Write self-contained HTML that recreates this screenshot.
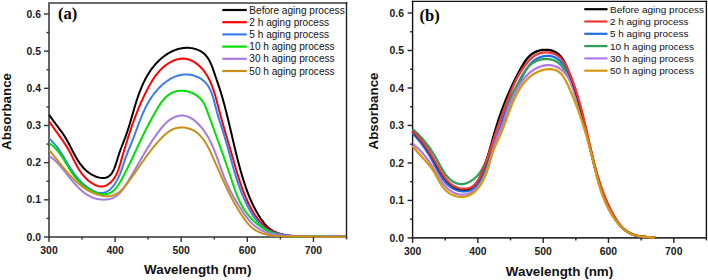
<!DOCTYPE html>
<html><head><meta charset="utf-8"><style>
html,body{margin:0;padding:0;background:#fff;width:708px;height:280px;overflow:hidden}
svg{display:block}
</style></head><body>
<svg width="708" height="280" viewBox="0 0 708 280">
<rect width="708" height="280" fill="#fff"/>
<line x1="49.00" y1="1.95" x2="49.00" y2="237.80" stroke="#646464" stroke-width="2.00"/>
<line x1="48.00" y1="2.95" x2="347.20" y2="2.95" stroke="#6c6c6c" stroke-width="2.00"/>
<line x1="346.50" y1="1.95" x2="346.50" y2="237.80" stroke="#1e1e1e" stroke-width="1.40"/>
<line x1="48.00" y1="237.00" x2="347.20" y2="237.00" stroke="#333" stroke-width="1.60"/>
<path d="M49.25,114.74 L50.01,115.94 L50.79,117.11 L51.57,118.26 L52.35,119.39 L53.15,120.50 L53.94,121.60 L54.74,122.68 L55.54,123.75 L56.34,124.82 L57.14,125.88 L57.94,126.93 L58.73,127.98 L59.52,129.03 L60.30,130.09 L61.07,131.15 L61.84,132.21 L62.59,133.29 L63.34,134.37 L64.07,135.47 L64.78,136.58 L65.48,137.72 L66.17,138.86 L66.84,140.03 L67.50,141.21 L68.15,142.40 L68.80,143.60 L69.43,144.81 L70.06,146.03 L70.69,147.25 L71.32,148.48 L71.95,149.71 L72.59,150.93 L73.22,152.16 L73.87,153.37 L74.52,154.59 L75.18,155.79 L75.85,156.99 L76.54,158.17 L77.24,159.34 L77.96,160.50 L78.70,161.63 L79.45,162.75 L80.23,163.85 L81.04,164.93 L81.87,165.98 L82.73,167.00 L83.61,168.00 L84.53,168.96 L85.49,169.89 L86.47,170.79 L87.50,171.66 L88.56,172.49 L89.66,173.27 L90.80,174.02 L91.99,174.72 L93.20,175.37 L94.44,175.96 L95.70,176.49 L96.96,176.95 L98.23,177.34 L99.50,177.65 L100.75,177.87 L101.98,178.00 L103.19,178.02 L104.36,177.95 L105.50,177.77 L106.58,177.47 L107.61,177.04 L108.58,176.49 L109.48,175.82 L110.32,175.02 L111.11,174.12 L111.84,173.12 L112.52,172.03 L113.16,170.85 L113.76,169.61 L114.33,168.31 L114.86,166.96 L115.37,165.56 L115.86,164.13 L116.33,162.69 L116.78,161.22 L117.23,159.76 L117.67,158.30 L118.11,156.85 L118.56,155.43 L119.01,154.05 L119.47,152.69 L119.93,151.36 L120.40,150.05 L120.87,148.77 L121.34,147.50 L121.82,146.26 L122.29,145.02 L122.77,143.80 L123.24,142.59 L123.71,141.39 L124.17,140.19 L124.64,138.99 L125.09,137.79 L125.54,136.59 L125.99,135.38 L126.42,134.17 L126.85,132.94 L127.27,131.71 L127.68,130.47 L128.09,129.22 L128.49,127.97 L128.88,126.71 L129.27,125.44 L129.66,124.17 L130.04,122.89 L130.42,121.61 L130.80,120.33 L131.18,119.04 L131.55,117.74 L131.93,116.45 L132.30,115.15 L132.68,113.85 L133.06,112.55 L133.43,111.24 L133.81,109.94 L134.20,108.63 L134.58,107.33 L134.98,106.02 L135.37,104.72 L135.77,103.42 L136.18,102.12 L136.59,100.82 L137.01,99.52 L137.44,98.23 L137.88,96.94 L138.32,95.65 L138.78,94.37 L139.24,93.10 L139.71,91.82 L140.20,90.56 L140.70,89.30 L141.20,88.04 L141.73,86.80 L142.26,85.56 L142.81,84.33 L143.37,83.10 L143.95,81.89 L144.55,80.68 L145.16,79.48 L145.78,78.30 L146.43,77.12 L147.09,75.95 L147.77,74.80 L148.47,73.65 L149.19,72.52 L149.93,71.40 L150.69,70.30 L151.47,69.20 L152.28,68.12 L153.10,67.06 L153.95,66.01 L154.83,64.97 L155.72,63.95 L156.65,62.94 L157.59,61.96 L158.56,60.99 L159.55,60.04 L160.57,59.12 L161.60,58.22 L162.66,57.35 L163.74,56.50 L164.83,55.68 L165.95,54.90 L167.08,54.14 L168.24,53.42 L169.41,52.74 L170.59,52.09 L171.79,51.48 L173.01,50.91 L174.24,50.39 L175.49,49.91 L176.75,49.47 L178.03,49.08 L179.31,48.74 L180.61,48.45 L181.92,48.21 L183.24,48.03 L184.57,47.90 L185.91,47.83 L187.25,47.81 L188.60,47.85 L189.95,47.95 L191.29,48.12 L192.62,48.34 L193.93,48.62 L195.23,48.96 L196.50,49.36 L197.74,49.82 L198.96,50.34 L200.13,50.93 L201.26,51.58 L202.35,52.29 L203.39,53.07 L204.37,53.91 L205.30,54.81 L206.17,55.78 L206.98,56.80 L207.74,57.88 L208.46,59.00 L209.14,60.16 L209.78,61.36 L210.38,62.60 L210.95,63.86 L211.49,65.14 L212.00,66.45 L212.50,67.77 L212.98,69.09 L213.45,70.42 L213.90,71.75 L214.36,73.08 L214.80,74.39 L215.25,75.70 L215.70,76.99 L216.14,78.28 L216.58,79.56 L217.02,80.83 L217.45,82.10 L217.89,83.36 L218.31,84.63 L218.73,85.89 L219.15,87.15 L219.56,88.42 L219.97,89.68 L220.37,90.95 L220.76,92.22 L221.15,93.50 L221.54,94.78 L221.92,96.05 L222.29,97.33 L222.66,98.62 L223.03,99.90 L223.39,101.19 L223.74,102.48 L224.10,103.77 L224.45,105.06 L224.79,106.35 L225.13,107.65 L225.47,108.94 L225.81,110.24 L226.14,111.54 L226.47,112.84 L226.80,114.14 L227.12,115.45 L227.44,116.75 L227.76,118.06 L228.08,119.36 L228.39,120.67 L228.71,121.98 L229.02,123.29 L229.33,124.60 L229.64,125.91 L229.95,127.22 L230.26,128.53 L230.56,129.85 L230.87,131.16 L231.18,132.47 L231.48,133.78 L231.79,135.10 L232.09,136.41 L232.40,137.73 L232.70,139.04 L233.01,140.35 L233.32,141.67 L233.62,142.98 L233.93,144.29 L234.24,145.61 L234.55,146.92 L234.87,148.23 L235.18,149.54 L235.50,150.85 L235.81,152.16 L236.13,153.47 L236.46,154.78 L236.78,156.09 L237.11,157.40 L237.44,158.70 L237.77,160.01 L238.11,161.31 L238.45,162.61 L238.79,163.91 L239.13,165.21 L239.48,166.51 L239.84,167.81 L240.20,169.11 L240.56,170.40 L240.92,171.69 L241.29,172.98 L241.67,174.27 L242.05,175.56 L242.43,176.85 L242.82,178.13 L243.22,179.41 L243.62,180.69 L244.03,181.97 L244.44,183.24 L244.86,184.51 L245.29,185.78 L245.72,187.05 L246.16,188.31 L246.61,189.57 L247.07,190.83 L247.53,192.09 L248.01,193.34 L248.49,194.59 L248.99,195.83 L249.49,197.07 L250.01,198.31 L250.53,199.54 L251.07,200.77 L251.62,202.00 L252.18,203.22 L252.76,204.43 L253.35,205.65 L253.95,206.85 L254.56,208.05 L255.19,209.25 L255.83,210.44 L256.49,211.63 L257.16,212.81 L257.85,213.99 L258.55,215.16 L259.27,216.32 L260.01,217.48 L260.76,218.63 L261.54,219.75 L262.34,220.86 L263.15,221.95 L263.99,223.01 L264.86,224.04 L265.75,225.04 L266.67,225.99 L267.62,226.91 L268.59,227.79 L269.60,228.61 L270.64,229.39 L271.71,230.11 L272.81,230.78 L273.94,231.40 L275.09,231.97 L276.28,232.50 L277.48,232.98 L278.71,233.42 L279.96,233.82 L281.23,234.19 L282.52,234.51 L283.83,234.81 L285.15,235.07 L286.49,235.30 L287.84,235.50 L289.20,235.68 L290.56,235.83 L291.94,235.96 L293.32,236.07 L294.71,236.16 L296.10,236.23 L297.49,236.29 L298.89,236.34 L300.28,236.37 L301.67,236.40 L303.05,236.42 L304.43,236.44 L305.80,236.45 L307.17,236.46 L308.52,236.47 L309.87,236.48 L311.22,236.48 L312.55,236.49 L313.89,236.49 L315.22,236.49 L316.54,236.49 L317.87,236.49 L319.19,236.49 L320.51,236.49 L321.82,236.49 L323.14,236.49 L324.46,236.49 L325.78,236.48 L327.10,236.48 L328.42,236.48 L329.74,236.48 L331.07,236.47 L332.40,236.47 L333.73,236.47 L335.07,236.47 L336.42,236.47 L337.77,236.47 L339.12,236.48 L340.49,236.48 L341.86,236.49 L343.24,236.49 L344.63,236.50 L346.03,236.51" fill="none" stroke="#000000" stroke-width="2.00" stroke-linejoin="round" stroke-linecap="butt"/>
<path d="M49.19,121.32 L49.90,122.41 L50.63,123.50 L51.36,124.59 L52.10,125.67 L52.85,126.75 L53.61,127.82 L54.37,128.90 L55.14,129.97 L55.90,131.04 L56.67,132.11 L57.45,133.17 L58.22,134.24 L58.99,135.31 L59.75,136.38 L60.52,137.46 L61.28,138.53 L62.03,139.61 L62.78,140.69 L63.52,141.77 L64.24,142.86 L64.96,143.95 L65.67,145.04 L66.37,146.15 L67.05,147.26 L67.72,148.37 L68.37,149.49 L69.01,150.62 L69.63,151.76 L70.24,152.90 L70.83,154.05 L71.42,155.20 L72.00,156.36 L72.57,157.52 L73.15,158.68 L73.72,159.84 L74.30,160.99 L74.88,162.15 L75.48,163.30 L76.08,164.45 L76.70,165.59 L77.33,166.73 L77.99,167.86 L78.66,168.98 L79.36,170.09 L80.08,171.19 L80.84,172.27 L81.62,173.35 L82.44,174.41 L83.30,175.45 L84.19,176.48 L85.13,177.49 L86.11,178.49 L87.13,179.46 L88.19,180.40 L89.29,181.30 L90.42,182.16 L91.57,182.96 L92.74,183.71 L93.94,184.38 L95.14,184.97 L96.35,185.48 L97.56,185.89 L98.77,186.20 L99.97,186.40 L101.17,186.49 L102.34,186.44 L103.50,186.27 L104.63,185.99 L105.74,185.59 L106.82,185.08 L107.87,184.48 L108.89,183.79 L109.87,183.02 L110.82,182.18 L111.72,181.27 L112.57,180.31 L113.39,179.30 L114.15,178.24 L114.86,177.15 L115.52,176.03 L116.13,174.88 L116.71,173.71 L117.24,172.51 L117.75,171.29 L118.22,170.05 L118.67,168.80 L119.09,167.54 L119.49,166.27 L119.88,164.99 L120.26,163.70 L120.62,162.41 L120.99,161.13 L121.35,159.85 L121.72,158.57 L122.09,157.30 L122.46,156.04 L122.84,154.78 L123.21,153.52 L123.59,152.26 L123.97,151.00 L124.34,149.74 L124.72,148.49 L125.10,147.24 L125.48,145.98 L125.87,144.73 L126.25,143.48 L126.64,142.24 L127.02,140.99 L127.41,139.74 L127.81,138.50 L128.20,137.26 L128.60,136.02 L128.99,134.78 L129.40,133.54 L129.80,132.31 L130.21,131.07 L130.62,129.84 L131.03,128.61 L131.45,127.38 L131.87,126.15 L132.29,124.93 L132.72,123.70 L133.15,122.48 L133.59,121.26 L134.03,120.05 L134.48,118.83 L134.93,117.62 L135.38,116.40 L135.84,115.19 L136.31,113.99 L136.78,112.78 L137.25,111.58 L137.73,110.37 L138.22,109.17 L138.71,107.98 L139.21,106.78 L139.71,105.59 L140.22,104.40 L140.74,103.21 L141.26,102.02 L141.79,100.84 L142.33,99.66 L142.87,98.48 L143.42,97.30 L143.98,96.13 L144.54,94.95 L145.12,93.79 L145.70,92.62 L146.28,91.45 L146.88,90.29 L147.48,89.13 L148.10,87.98 L148.72,86.82 L149.35,85.67 L149.99,84.52 L150.64,83.38 L151.31,82.25 L151.98,81.12 L152.68,80.01 L153.39,78.90 L154.11,77.81 L154.86,76.73 L155.62,75.67 L156.41,74.62 L157.22,73.58 L158.05,72.57 L158.90,71.58 L159.78,70.60 L160.69,69.65 L161.62,68.72 L162.59,67.82 L163.58,66.94 L164.60,66.09 L165.66,65.27 L166.75,64.48 L167.88,63.72 L169.03,62.99 L170.21,62.31 L171.42,61.67 L172.65,61.08 L173.89,60.54 L175.15,60.05 L176.42,59.63 L177.70,59.28 L178.98,58.99 L180.27,58.78 L181.55,58.64 L182.82,58.59 L184.09,58.63 L185.35,58.75 L186.60,58.96 L187.83,59.25 L189.04,59.61 L190.24,60.05 L191.41,60.55 L192.56,61.12 L193.69,61.74 L194.79,62.42 L195.87,63.14 L196.91,63.90 L197.92,64.71 L198.90,65.54 L199.85,66.41 L200.76,67.30 L201.64,68.22 L202.49,69.17 L203.30,70.14 L204.09,71.14 L204.84,72.16 L205.57,73.20 L206.27,74.27 L206.95,75.35 L207.60,76.45 L208.22,77.58 L208.83,78.72 L209.41,79.88 L209.97,81.05 L210.50,82.25 L211.02,83.45 L211.52,84.67 L212.01,85.90 L212.48,87.14 L212.93,88.40 L213.36,89.66 L213.79,90.94 L214.20,92.22 L214.60,93.51 L214.99,94.80 L215.37,96.10 L215.74,97.41 L216.11,98.72 L216.46,100.03 L216.82,101.35 L217.16,102.66 L217.51,103.98 L217.85,105.29 L218.19,106.61 L218.53,107.92 L218.87,109.23 L219.21,110.53 L219.55,111.83 L219.89,113.12 L220.24,114.41 L220.59,115.70 L220.94,116.98 L221.29,118.26 L221.64,119.53 L221.99,120.80 L222.35,122.07 L222.71,123.34 L223.06,124.60 L223.42,125.85 L223.78,127.11 L224.14,128.36 L224.50,129.61 L224.87,130.86 L225.23,132.11 L225.59,133.36 L225.96,134.60 L226.32,135.84 L226.69,137.08 L227.05,138.32 L227.42,139.56 L227.78,140.80 L228.15,142.04 L228.51,143.28 L228.88,144.52 L229.24,145.76 L229.61,147.00 L229.97,148.24 L230.34,149.47 L230.70,150.72 L231.06,151.96 L231.42,153.20 L231.78,154.45 L232.15,155.69 L232.50,156.94 L232.86,158.19 L233.22,159.44 L233.58,160.69 L233.94,161.95 L234.30,163.20 L234.66,164.46 L235.02,165.72 L235.38,166.98 L235.75,168.24 L236.11,169.50 L236.48,170.76 L236.86,172.02 L237.24,173.28 L237.62,174.54 L238.00,175.80 L238.39,177.06 L238.79,178.32 L239.19,179.58 L239.60,180.84 L240.01,182.10 L240.44,183.36 L240.86,184.62 L241.30,185.87 L241.74,187.13 L242.19,188.38 L242.65,189.63 L243.12,190.88 L243.60,192.12 L244.09,193.37 L244.59,194.61 L245.10,195.85 L245.62,197.09 L246.15,198.32 L246.70,199.55 L247.25,200.78 L247.82,202.01 L248.40,203.23 L248.99,204.45 L249.60,205.67 L250.22,206.88 L250.86,208.08 L251.51,209.28 L252.18,210.46 L252.86,211.64 L253.56,212.80 L254.28,213.95 L255.01,215.08 L255.77,216.19 L256.54,217.28 L257.33,218.36 L258.14,219.41 L258.97,220.43 L259.82,221.43 L260.69,222.41 L261.58,223.35 L262.49,224.27 L263.43,225.15 L264.39,225.99 L265.37,226.81 L266.38,227.58 L267.41,228.32 L268.46,229.01 L269.54,229.67 L270.65,230.28 L271.77,230.86 L272.92,231.40 L274.09,231.90 L275.28,232.36 L276.49,232.80 L277.71,233.20 L278.95,233.57 L280.21,233.91 L281.48,234.22 L282.76,234.51 L284.06,234.76 L285.36,235.00 L286.68,235.21 L288.00,235.40 L289.33,235.57 L290.67,235.72 L292.01,235.85 L293.35,235.96 L294.70,236.06 L296.05,236.15 L297.41,236.22 L298.76,236.28 L300.11,236.33 L301.45,236.37 L302.80,236.41 L304.14,236.44 L305.47,236.46 L306.79,236.48 L308.11,236.50 L309.43,236.51 L310.74,236.52 L312.04,236.53 L313.34,236.53 L314.64,236.53 L315.93,236.53 L317.22,236.53 L318.51,236.53 L319.80,236.52 L321.09,236.51 L322.37,236.51 L323.66,236.50 L324.95,236.49 L326.23,236.48 L327.52,236.48 L328.81,236.47 L330.11,236.46 L331.41,236.46 L332.71,236.45 L334.01,236.45 L335.32,236.44 L336.64,236.44 L337.96,236.45 L339.29,236.45 L340.62,236.46 L341.96,236.47 L343.31,236.48 L344.67,236.49 L346.04,236.51" fill="none" stroke="#ff0000" stroke-width="2.00" stroke-linejoin="round" stroke-linecap="butt"/>
<path d="M49.12,138.57 L50.10,139.45 L51.04,140.35 L51.96,141.26 L52.84,142.19 L53.70,143.12 L54.53,144.07 L55.34,145.03 L56.12,145.99 L56.89,146.97 L57.63,147.95 L58.36,148.94 L59.06,149.94 L59.76,150.95 L60.44,151.96 L61.10,152.98 L61.76,154.01 L62.40,155.03 L63.04,156.07 L63.67,157.10 L64.30,158.14 L64.92,159.18 L65.54,160.22 L66.16,161.27 L66.78,162.31 L67.41,163.35 L68.04,164.40 L68.67,165.44 L69.31,166.48 L69.95,167.52 L70.61,168.55 L71.28,169.59 L71.96,170.61 L72.66,171.64 L73.37,172.66 L74.09,173.67 L74.84,174.67 L75.61,175.67 L76.40,176.66 L77.21,177.65 L78.04,178.62 L78.90,179.59 L79.79,180.54 L80.70,181.48 L81.63,182.40 L82.59,183.31 L83.57,184.20 L84.58,185.06 L85.60,185.91 L86.66,186.73 L87.73,187.53 L88.83,188.29 L89.94,189.02 L91.07,189.71 L92.22,190.36 L93.37,190.95 L94.52,191.48 L95.68,191.95 L96.83,192.34 L97.98,192.66 L99.12,192.89 L100.24,193.03 L101.35,193.08 L102.44,193.02 L103.50,192.86 L104.55,192.59 L105.56,192.23 L106.56,191.78 L107.52,191.24 L108.46,190.63 L109.38,189.94 L110.27,189.19 L111.13,188.37 L111.96,187.50 L112.76,186.58 L113.53,185.62 L114.28,184.62 L114.99,183.59 L115.67,182.53 L116.32,181.46 L116.94,180.37 L117.53,179.26 L118.09,178.15 L118.63,177.02 L119.14,175.88 L119.64,174.73 L120.11,173.57 L120.57,172.41 L121.01,171.24 L121.43,170.06 L121.85,168.88 L122.26,167.69 L122.66,166.50 L123.06,165.32 L123.45,164.13 L123.84,162.94 L124.24,161.75 L124.64,160.56 L125.04,159.38 L125.45,158.20 L125.87,157.03 L126.30,155.86 L126.74,154.70 L127.19,153.54 L127.64,152.38 L128.09,151.23 L128.55,150.08 L129.02,148.93 L129.48,147.79 L129.95,146.64 L130.42,145.50 L130.89,144.36 L131.35,143.21 L131.81,142.07 L132.27,140.92 L132.72,139.77 L133.17,138.62 L133.61,137.47 L134.05,136.32 L134.48,135.16 L134.91,134.01 L135.34,132.85 L135.77,131.69 L136.19,130.53 L136.62,129.38 L137.04,128.22 L137.47,127.06 L137.90,125.90 L138.33,124.75 L138.76,123.59 L139.19,122.44 L139.63,121.29 L140.08,120.14 L140.53,119.00 L140.98,117.86 L141.45,116.72 L141.92,115.58 L142.39,114.45 L142.88,113.32 L143.38,112.20 L143.88,111.08 L144.40,109.96 L144.93,108.85 L145.47,107.75 L146.02,106.65 L146.58,105.55 L147.16,104.47 L147.76,103.39 L148.36,102.31 L148.99,101.25 L149.63,100.19 L150.29,99.13 L150.96,98.09 L151.66,97.05 L152.37,96.03 L153.10,95.01 L153.86,94.00 L154.63,93.00 L155.43,92.01 L156.24,91.03 L157.08,90.06 L157.94,89.11 L158.81,88.17 L159.71,87.25 L160.62,86.35 L161.55,85.48 L162.50,84.62 L163.47,83.78 L164.45,82.98 L165.45,82.19 L166.47,81.44 L167.50,80.72 L168.54,80.02 L169.60,79.36 L170.67,78.74 L171.76,78.15 L172.86,77.60 L173.97,77.08 L175.10,76.61 L176.23,76.18 L177.38,75.79 L178.53,75.45 L179.70,75.15 L180.87,74.90 L182.06,74.70 L183.25,74.56 L184.45,74.46 L185.66,74.42 L186.88,74.43 L188.10,74.51 L189.32,74.63 L190.54,74.81 L191.76,75.05 L192.97,75.34 L194.16,75.68 L195.34,76.07 L196.50,76.51 L197.64,77.00 L198.76,77.54 L199.84,78.13 L200.89,78.77 L201.91,79.45 L202.88,80.18 L203.81,80.95 L204.70,81.77 L205.53,82.63 L206.32,83.53 L207.06,84.47 L207.76,85.45 L208.42,86.46 L209.03,87.50 L209.62,88.58 L210.16,89.68 L210.68,90.81 L211.16,91.96 L211.62,93.13 L212.06,94.32 L212.47,95.53 L212.86,96.76 L213.23,97.99 L213.59,99.24 L213.94,100.49 L214.27,101.75 L214.60,103.01 L214.92,104.28 L215.24,105.54 L215.55,106.80 L215.87,108.06 L216.19,109.31 L216.51,110.55 L216.85,111.78 L217.19,112.99 L217.53,114.20 L217.89,115.40 L218.24,116.60 L218.60,117.78 L218.97,118.97 L219.34,120.14 L219.71,121.31 L220.08,122.48 L220.45,123.64 L220.83,124.81 L221.20,125.97 L221.58,127.13 L221.96,128.29 L222.33,129.45 L222.70,130.62 L223.07,131.79 L223.44,132.96 L223.80,134.13 L224.16,135.31 L224.52,136.50 L224.88,137.68 L225.23,138.87 L225.58,140.07 L225.92,141.26 L226.27,142.46 L226.61,143.66 L226.95,144.86 L227.29,146.06 L227.62,147.27 L227.96,148.47 L228.29,149.68 L228.62,150.88 L228.96,152.09 L229.29,153.30 L229.62,154.50 L229.94,155.70 L230.27,156.90 L230.60,158.10 L230.93,159.30 L231.26,160.50 L231.59,161.69 L231.92,162.89 L232.25,164.08 L232.59,165.27 L232.92,166.46 L233.26,167.65 L233.60,168.83 L233.94,170.01 L234.29,171.20 L234.64,172.38 L234.99,173.56 L235.35,174.74 L235.71,175.91 L236.08,177.09 L236.45,178.26 L236.82,179.44 L237.20,180.61 L237.59,181.78 L237.99,182.95 L238.39,184.12 L238.79,185.29 L239.21,186.45 L239.63,187.62 L240.06,188.78 L240.49,189.94 L240.94,191.11 L241.39,192.27 L241.85,193.43 L242.32,194.58 L242.80,195.74 L243.30,196.90 L243.80,198.06 L244.31,199.21 L244.83,200.37 L245.36,201.52 L245.91,202.67 L246.46,203.82 L247.03,204.97 L247.61,206.12 L248.20,207.27 L248.81,208.41 L249.43,209.55 L250.06,210.68 L250.71,211.80 L251.37,212.91 L252.05,214.01 L252.74,215.09 L253.45,216.16 L254.18,217.21 L254.93,218.24 L255.69,219.25 L256.47,220.24 L257.27,221.21 L258.09,222.15 L258.93,223.07 L259.79,223.96 L260.67,224.81 L261.57,225.64 L262.50,226.44 L263.44,227.20 L264.41,227.92 L265.40,228.61 L266.42,229.26 L267.46,229.87 L268.52,230.44 L269.60,230.97 L270.70,231.47 L271.82,231.93 L272.96,232.36 L274.11,232.77 L275.28,233.14 L276.47,233.48 L277.66,233.79 L278.87,234.08 L280.09,234.35 L281.32,234.59 L282.56,234.81 L283.80,235.01 L285.05,235.20 L286.30,235.36 L287.56,235.51 L288.82,235.65 L290.07,235.77 L291.33,235.88 L292.59,235.98 L293.85,236.07 L295.10,236.15 L296.35,236.23 L297.60,236.29 L298.85,236.35 L300.10,236.40 L301.34,236.44 L302.59,236.48 L303.83,236.51 L305.07,236.53 L306.31,236.55 L307.55,236.57 L308.79,236.58 L310.03,236.58 L311.27,236.58 L312.50,236.58 L313.74,236.57 L314.97,236.56 L316.21,236.55 L317.44,236.54 L318.68,236.53 L319.91,236.51 L321.15,236.49 L322.38,236.48 L323.62,236.46 L324.86,236.44 L326.09,236.42 L327.33,236.41 L328.57,236.39 L329.81,236.38 L331.04,236.37 L332.28,236.36 L333.53,236.36 L334.77,236.35 L336.01,236.36 L337.26,236.36 L338.50,236.37 L339.75,236.39 L341.00,236.41 L342.25,236.44 L343.50,236.47 L344.76,236.51 L346.02,236.55" fill="none" stroke="#3a7ee8" stroke-width="2.00" stroke-linejoin="round" stroke-linecap="butt"/>
<path d="M49.01,142.92 L50.04,143.67 L51.02,144.43 L51.98,145.21 L52.90,146.01 L53.78,146.83 L54.64,147.66 L55.46,148.50 L56.26,149.36 L57.04,150.23 L57.78,151.11 L58.51,152.01 L59.22,152.91 L59.90,153.83 L60.57,154.76 L61.23,155.69 L61.86,156.63 L62.49,157.58 L63.11,158.54 L63.71,159.50 L64.31,160.46 L64.90,161.43 L65.49,162.40 L66.07,163.38 L66.66,164.36 L67.24,165.34 L67.83,166.31 L68.42,167.29 L69.01,168.27 L69.62,169.24 L70.23,170.22 L70.85,171.19 L71.48,172.15 L72.13,173.11 L72.79,174.06 L73.47,175.01 L74.17,175.95 L74.89,176.88 L75.63,177.81 L76.40,178.72 L77.18,179.62 L78.00,180.51 L78.84,181.40 L79.72,182.26 L80.62,183.12 L81.54,183.95 L82.49,184.77 L83.47,185.57 L84.46,186.34 L85.47,187.09 L86.49,187.81 L87.54,188.51 L88.59,189.17 L89.66,189.80 L90.73,190.40 L91.82,190.96 L92.91,191.48 L94.00,191.96 L95.10,192.40 L96.19,192.80 L97.29,193.15 L98.38,193.45 L99.47,193.71 L100.55,193.91 L101.62,194.05 L102.69,194.14 L103.74,194.18 L104.78,194.15 L105.80,194.06 L106.81,193.91 L107.80,193.70 L108.76,193.41 L109.71,193.06 L110.63,192.63 L111.52,192.13 L112.39,191.56 L113.23,190.92 L114.04,190.20 L114.83,189.43 L115.59,188.59 L116.33,187.71 L117.05,186.78 L117.75,185.81 L118.44,184.80 L119.10,183.77 L119.75,182.71 L120.39,181.63 L121.01,180.54 L121.62,179.44 L122.22,178.34 L122.81,177.24 L123.39,176.14 L123.97,175.05 L124.53,173.97 L125.09,172.89 L125.64,171.81 L126.19,170.74 L126.73,169.67 L127.26,168.60 L127.79,167.54 L128.31,166.48 L128.83,165.42 L129.34,164.37 L129.84,163.31 L130.35,162.27 L130.85,161.22 L131.34,160.17 L131.83,159.13 L132.32,158.09 L132.81,157.05 L133.29,156.02 L133.78,154.98 L134.26,153.95 L134.74,152.91 L135.21,151.88 L135.69,150.85 L136.17,149.82 L136.65,148.79 L137.13,147.76 L137.60,146.73 L138.08,145.70 L138.57,144.67 L139.05,143.64 L139.53,142.60 L140.02,141.57 L140.51,140.54 L141.00,139.51 L141.50,138.47 L142.00,137.44 L142.50,136.40 L143.01,135.36 L143.52,134.32 L144.04,133.28 L144.56,132.23 L145.09,131.18 L145.62,130.14 L146.15,129.09 L146.69,128.04 L147.23,126.99 L147.78,125.94 L148.33,124.90 L148.88,123.85 L149.43,122.80 L149.99,121.76 L150.55,120.71 L151.11,119.67 L151.68,118.63 L152.24,117.60 L152.81,116.57 L153.38,115.54 L153.94,114.51 L154.51,113.49 L155.08,112.47 L155.65,111.46 L156.23,110.45 L156.81,109.44 L157.41,108.42 L158.02,107.41 L158.65,106.40 L159.30,105.39 L159.96,104.39 L160.64,103.41 L161.34,102.44 L162.06,101.48 L162.80,100.55 L163.56,99.65 L164.34,98.77 L165.14,97.92 L165.97,97.10 L166.81,96.32 L167.68,95.58 L168.58,94.88 L169.49,94.22 L170.44,93.62 L171.41,93.07 L172.40,92.57 L173.42,92.13 L174.47,91.75 L175.54,91.43 L176.64,91.16 L177.75,90.96 L178.88,90.82 L180.03,90.73 L181.18,90.70 L182.34,90.72 L183.51,90.80 L184.67,90.93 L185.84,91.11 L187.00,91.34 L188.15,91.63 L189.29,91.96 L190.42,92.34 L191.53,92.77 L192.63,93.25 L193.70,93.77 L194.75,94.34 L195.76,94.95 L196.75,95.60 L197.70,96.30 L198.62,97.04 L199.50,97.82 L200.33,98.64 L201.12,99.50 L201.86,100.39 L202.55,101.32 L203.18,102.29 L203.78,103.29 L204.33,104.31 L204.85,105.36 L205.33,106.43 L205.79,107.52 L206.23,108.62 L206.66,109.72 L207.07,110.84 L207.48,111.95 L207.89,113.07 L208.29,114.18 L208.70,115.29 L209.10,116.40 L209.51,117.51 L209.91,118.62 L210.32,119.72 L210.72,120.82 L211.13,121.93 L211.53,123.03 L211.93,124.13 L212.33,125.22 L212.74,126.32 L213.14,127.42 L213.54,128.51 L213.94,129.61 L214.34,130.70 L214.73,131.79 L215.13,132.89 L215.53,133.98 L215.93,135.07 L216.32,136.16 L216.72,137.25 L217.11,138.34 L217.51,139.42 L217.90,140.51 L218.29,141.60 L218.69,142.69 L219.08,143.77 L219.47,144.86 L219.86,145.95 L220.25,147.03 L220.64,148.12 L221.03,149.21 L221.42,150.29 L221.80,151.38 L222.19,152.47 L222.58,153.56 L222.96,154.64 L223.34,155.73 L223.73,156.82 L224.11,157.91 L224.49,159.00 L224.87,160.09 L225.25,161.18 L225.63,162.27 L226.01,163.36 L226.39,164.45 L226.77,165.55 L227.14,166.64 L227.52,167.74 L227.89,168.83 L228.27,169.93 L228.64,171.03 L229.01,172.13 L229.38,173.23 L229.75,174.33 L230.12,175.44 L230.49,176.54 L230.86,177.65 L231.23,178.76 L231.59,179.87 L231.96,180.98 L232.32,182.09 L232.69,183.20 L233.06,184.31 L233.43,185.43 L233.80,186.54 L234.18,187.65 L234.56,188.76 L234.95,189.87 L235.34,190.97 L235.74,192.07 L236.15,193.17 L236.57,194.26 L237.00,195.35 L237.44,196.44 L237.89,197.52 L238.35,198.59 L238.83,199.66 L239.32,200.72 L239.82,201.78 L240.34,202.83 L240.88,203.87 L241.43,204.90 L242.00,205.92 L242.59,206.93 L243.20,207.94 L243.82,208.93 L244.46,209.91 L245.12,210.88 L245.79,211.85 L246.49,212.79 L247.19,213.73 L247.92,214.65 L248.66,215.56 L249.41,216.46 L250.18,217.34 L250.97,218.21 L251.77,219.07 L252.58,219.90 L253.41,220.72 L254.25,221.53 L255.11,222.32 L255.98,223.09 L256.87,223.85 L257.77,224.58 L258.68,225.30 L259.60,226.00 L260.54,226.68 L261.49,227.34 L262.45,227.98 L263.42,228.60 L264.41,229.19 L265.40,229.77 L266.41,230.32 L267.43,230.85 L268.46,231.36 L269.50,231.85 L270.55,232.31 L271.61,232.75 L272.68,233.16 L273.76,233.55 L274.85,233.91 L275.94,234.25 L277.05,234.56 L278.17,234.84 L279.29,235.09 L280.42,235.32 L281.56,235.53 L282.71,235.71 L283.86,235.87 L285.02,236.01 L286.18,236.13 L287.35,236.24 L288.53,236.32 L289.71,236.39 L290.89,236.44 L292.08,236.48 L293.27,236.50 L294.46,236.51 L295.66,236.52 L296.86,236.51 L298.05,236.49 L299.25,236.47 L300.45,236.44 L301.65,236.41 L302.86,236.37 L304.05,236.33 L305.25,236.29 L306.45,236.24 L307.64,236.20 L308.84,236.16 L310.03,236.12 L311.21,236.09 L312.40,236.07 L313.57,236.04 L314.75,236.03 L315.92,236.03 L317.08,236.03 L318.24,236.05 L319.39,236.08 L320.53,236.12 L321.68,236.16 L322.81,236.22 L323.95,236.28 L325.08,236.35 L326.21,236.42 L327.34,236.49 L328.47,236.56 L329.60,236.62 L330.73,236.69 L331.87,236.74 L333.01,236.80 L334.15,236.84 L335.30,236.87 L336.46,236.90 L337.62,236.90 L338.79,236.90 L339.97,236.88 L341.16,236.84 L342.35,236.78 L343.56,236.70 L344.78,236.60 L346.02,236.47" fill="none" stroke="#00e000" stroke-width="2.00" stroke-linejoin="round" stroke-linecap="butt"/>
<path d="M49.39,156.12 L50.19,156.66 L50.98,157.22 L51.75,157.80 L52.52,158.41 L53.28,159.04 L54.03,159.70 L54.78,160.37 L55.52,161.06 L56.25,161.77 L56.97,162.50 L57.69,163.24 L58.40,164.00 L59.11,164.78 L59.81,165.56 L60.51,166.36 L61.21,167.17 L61.90,167.99 L62.59,168.82 L63.28,169.66 L63.97,170.50 L64.66,171.35 L65.34,172.20 L66.03,173.06 L66.71,173.93 L67.40,174.79 L68.08,175.66 L68.77,176.52 L69.46,177.39 L70.16,178.25 L70.85,179.11 L71.55,179.96 L72.25,180.81 L72.96,181.66 L73.67,182.50 L74.39,183.33 L75.12,184.15 L75.85,184.96 L76.58,185.76 L77.33,186.54 L78.08,187.32 L78.84,188.08 L79.60,188.82 L80.38,189.55 L81.17,190.26 L81.96,190.96 L82.77,191.63 L83.59,192.29 L84.41,192.92 L85.25,193.53 L86.11,194.12 L86.97,194.68 L87.85,195.22 L88.74,195.73 L89.65,196.22 L90.57,196.67 L91.50,197.10 L92.45,197.50 L93.42,197.87 L94.40,198.20 L95.40,198.50 L96.41,198.77 L97.44,199.00 L98.47,199.20 L99.51,199.36 L100.56,199.48 L101.61,199.57 L102.67,199.62 L103.72,199.63 L104.77,199.60 L105.81,199.53 L106.85,199.42 L107.88,199.27 L108.90,199.07 L109.90,198.83 L110.89,198.55 L111.86,198.23 L112.81,197.85 L113.74,197.44 L114.64,196.97 L115.52,196.46 L116.37,195.90 L117.19,195.30 L117.99,194.65 L118.77,193.96 L119.52,193.24 L120.25,192.49 L120.96,191.70 L121.65,190.89 L122.32,190.05 L122.98,189.18 L123.62,188.30 L124.25,187.41 L124.86,186.50 L125.47,185.57 L126.06,184.64 L126.65,183.71 L127.23,182.77 L127.80,181.83 L128.37,180.90 L128.93,179.97 L129.49,179.04 L130.04,178.11 L130.59,177.18 L131.14,176.26 L131.68,175.33 L132.22,174.41 L132.76,173.49 L133.29,172.57 L133.82,171.65 L134.35,170.74 L134.87,169.83 L135.40,168.91 L135.92,168.00 L136.44,167.09 L136.96,166.19 L137.47,165.28 L137.99,164.37 L138.51,163.47 L139.02,162.57 L139.54,161.67 L140.06,160.77 L140.57,159.87 L141.09,158.97 L141.61,158.07 L142.13,157.17 L142.65,156.28 L143.17,155.39 L143.70,154.49 L144.22,153.60 L144.75,152.71 L145.28,151.82 L145.82,150.93 L146.36,150.04 L146.90,149.15 L147.44,148.26 L147.99,147.37 L148.54,146.48 L149.10,145.60 L149.66,144.71 L150.23,143.82 L150.80,142.94 L151.38,142.05 L151.96,141.17 L152.55,140.28 L153.14,139.40 L153.74,138.51 L154.35,137.63 L154.96,136.74 L155.58,135.86 L156.21,134.98 L156.84,134.09 L157.48,133.21 L158.13,132.32 L158.79,131.44 L159.46,130.56 L160.14,129.68 L160.82,128.81 L161.52,127.95 L162.23,127.10 L162.95,126.26 L163.68,125.44 L164.42,124.64 L165.17,123.85 L165.94,123.09 L166.72,122.35 L167.52,121.64 L168.33,120.96 L169.15,120.30 L169.99,119.68 L170.85,119.10 L171.72,118.55 L172.61,118.03 L173.52,117.57 L174.44,117.14 L175.39,116.76 L176.35,116.42 L177.33,116.14 L178.32,115.91 L179.32,115.73 L180.32,115.60 L181.33,115.54 L182.33,115.53 L183.33,115.58 L184.32,115.70 L185.30,115.87 L186.26,116.11 L187.21,116.40 L188.15,116.75 L189.07,117.15 L189.98,117.59 L190.88,118.08 L191.76,118.61 L192.62,119.17 L193.48,119.78 L194.31,120.41 L195.13,121.08 L195.94,121.77 L196.73,122.48 L197.50,123.21 L198.26,123.96 L199.00,124.73 L199.72,125.51 L200.42,126.29 L201.11,127.09 L201.78,127.90 L202.44,128.73 L203.08,129.56 L203.70,130.40 L204.32,131.25 L204.91,132.11 L205.50,132.98 L206.07,133.86 L206.63,134.75 L207.17,135.65 L207.70,136.56 L208.23,137.47 L208.74,138.39 L209.24,139.32 L209.72,140.25 L210.20,141.19 L210.67,142.14 L211.13,143.10 L211.59,144.06 L212.03,145.02 L212.46,145.99 L212.89,146.97 L213.31,147.95 L213.72,148.93 L214.13,149.92 L214.53,150.91 L214.93,151.91 L215.32,152.91 L215.70,153.91 L216.08,154.91 L216.46,155.92 L216.83,156.93 L217.20,157.94 L217.57,158.95 L217.94,159.96 L218.30,160.98 L218.66,161.99 L219.02,163.01 L219.38,164.02 L219.74,165.04 L220.10,166.05 L220.45,167.06 L220.81,168.07 L221.18,169.08 L221.54,170.09 L221.90,171.10 L222.27,172.10 L222.64,173.11 L223.01,174.10 L223.39,175.10 L223.77,176.09 L224.16,177.08 L224.55,178.06 L224.94,179.04 L225.34,180.02 L225.75,180.99 L226.16,181.95 L226.58,182.91 L227.01,183.87 L227.44,184.82 L227.88,185.77 L228.32,186.71 L228.77,187.65 L229.23,188.58 L229.69,189.52 L230.16,190.45 L230.64,191.38 L231.12,192.30 L231.61,193.23 L232.10,194.15 L232.60,195.07 L233.10,195.99 L233.61,196.91 L234.13,197.83 L234.65,198.75 L235.18,199.66 L235.71,200.58 L236.25,201.50 L236.80,202.42 L237.35,203.34 L237.90,204.26 L238.46,205.19 L239.03,206.11 L239.60,207.04 L240.18,207.96 L240.77,208.89 L241.36,209.81 L241.96,210.73 L242.57,211.64 L243.18,212.55 L243.81,213.45 L244.44,214.35 L245.08,215.23 L245.73,216.11 L246.39,216.97 L247.06,217.83 L247.74,218.67 L248.43,219.50 L249.13,220.32 L249.84,221.12 L250.56,221.90 L251.30,222.66 L252.04,223.41 L252.80,224.14 L253.57,224.85 L254.36,225.53 L255.16,226.20 L255.97,226.84 L256.79,227.46 L257.63,228.05 L258.49,228.61 L259.36,229.15 L260.24,229.66 L261.14,230.14 L262.06,230.60 L262.98,231.03 L263.92,231.44 L264.87,231.82 L265.84,232.18 L266.81,232.52 L267.80,232.84 L268.79,233.14 L269.80,233.41 L270.81,233.67 L271.83,233.91 L272.86,234.13 L273.90,234.33 L274.94,234.52 L275.99,234.70 L277.05,234.86 L278.11,235.00 L279.18,235.14 L280.25,235.26 L281.32,235.37 L282.40,235.47 L283.47,235.56 L284.55,235.64 L285.64,235.71 L286.72,235.77 L287.80,235.83 L288.88,235.89 L289.96,235.93 L291.04,235.98 L292.12,236.02 L293.20,236.06 L294.27,236.09 L295.34,236.13 L296.41,236.16 L297.47,236.19 L298.54,236.21 L299.60,236.24 L300.66,236.26 L301.72,236.28 L302.78,236.30 L303.83,236.31 L304.89,236.33 L305.94,236.34 L306.99,236.35 L308.04,236.36 L309.09,236.37 L310.14,236.38 L311.19,236.38 L312.24,236.39 L313.29,236.39 L314.33,236.39 L315.38,236.40 L316.42,236.40 L317.47,236.40 L318.52,236.40 L319.56,236.40 L320.61,236.39 L321.66,236.39 L322.70,236.39 L323.75,236.39 L324.80,236.38 L325.85,236.38 L326.89,236.38 L327.94,236.38 L329.00,236.37 L330.05,236.37 L331.10,236.37 L332.16,236.37 L333.21,236.36 L334.27,236.36 L335.33,236.36 L336.39,236.36 L337.45,236.37 L338.52,236.37 L339.59,236.37 L340.65,236.38 L341.73,236.38 L342.80,236.39 L343.88,236.40 L344.95,236.40 L346.04,236.41" fill="none" stroke="#a57ae0" stroke-width="2.00" stroke-linejoin="round" stroke-linecap="butt"/>
<path d="M49.12,150.21 L49.76,150.95 L50.40,151.69 L51.04,152.44 L51.68,153.20 L52.31,153.96 L52.95,154.73 L53.58,155.50 L54.21,156.28 L54.84,157.06 L55.47,157.84 L56.10,158.63 L56.73,159.42 L57.36,160.21 L58.00,161.00 L58.63,161.80 L59.26,162.59 L59.90,163.39 L60.54,164.19 L61.18,164.98 L61.82,165.78 L62.46,166.58 L63.11,167.37 L63.76,168.17 L64.41,168.96 L65.07,169.75 L65.73,170.53 L66.40,171.32 L67.07,172.10 L67.75,172.87 L68.43,173.64 L69.11,174.41 L69.81,175.17 L70.50,175.92 L71.21,176.67 L71.92,177.41 L72.64,178.15 L73.36,178.88 L74.09,179.60 L74.83,180.31 L75.58,181.02 L76.33,181.71 L77.10,182.40 L77.87,183.08 L78.65,183.74 L79.44,184.40 L80.24,185.05 L81.05,185.68 L81.87,186.30 L82.70,186.91 L83.54,187.51 L84.39,188.10 L85.25,188.67 L86.13,189.23 L87.01,189.77 L87.91,190.30 L88.82,190.82 L89.74,191.32 L90.67,191.80 L91.61,192.26 L92.55,192.70 L93.51,193.12 L94.47,193.52 L95.43,193.90 L96.40,194.25 L97.37,194.58 L98.34,194.88 L99.32,195.15 L100.30,195.39 L101.27,195.61 L102.25,195.79 L103.22,195.94 L104.19,196.06 L105.16,196.14 L106.12,196.19 L107.07,196.20 L108.02,196.18 L108.96,196.11 L109.90,196.01 L110.82,195.86 L111.73,195.67 L112.63,195.44 L113.53,195.17 L114.40,194.84 L115.27,194.48 L116.12,194.06 L116.95,193.60 L117.77,193.08 L118.57,192.53 L119.36,191.92 L120.13,191.28 L120.89,190.61 L121.63,189.90 L122.37,189.16 L123.09,188.40 L123.80,187.61 L124.50,186.80 L125.19,185.97 L125.86,185.13 L126.53,184.28 L127.19,183.43 L127.85,182.56 L128.49,181.70 L129.13,180.83 L129.76,179.97 L130.39,179.12 L131.01,178.26 L131.62,177.41 L132.23,176.56 L132.83,175.71 L133.43,174.87 L134.03,174.03 L134.62,173.19 L135.21,172.35 L135.79,171.51 L136.37,170.68 L136.95,169.85 L137.52,169.02 L138.10,168.20 L138.67,167.37 L139.24,166.55 L139.81,165.73 L140.38,164.91 L140.94,164.10 L141.51,163.28 L142.08,162.47 L142.65,161.66 L143.22,160.86 L143.79,160.05 L144.36,159.24 L144.93,158.44 L145.50,157.64 L146.08,156.84 L146.66,156.04 L147.25,155.25 L147.83,154.45 L148.42,153.66 L149.02,152.87 L149.62,152.08 L150.22,151.29 L150.83,150.50 L151.44,149.72 L152.06,148.93 L152.68,148.15 L153.31,147.37 L153.95,146.59 L154.60,145.81 L155.25,145.03 L155.91,144.25 L156.57,143.47 L157.25,142.70 L157.93,141.92 L158.62,141.15 L159.33,140.38 L160.04,139.61 L160.76,138.84 L161.49,138.07 L162.23,137.31 L162.98,136.56 L163.74,135.82 L164.52,135.10 L165.30,134.40 L166.10,133.71 L166.91,133.05 L167.74,132.41 L168.57,131.80 L169.42,131.22 L170.29,130.68 L171.17,130.17 L172.06,129.70 L172.97,129.27 L173.89,128.88 L174.83,128.54 L175.79,128.25 L176.76,128.01 L177.73,127.81 L178.72,127.65 L179.71,127.54 L180.71,127.47 L181.71,127.45 L182.71,127.47 L183.71,127.53 L184.70,127.63 L185.69,127.77 L186.67,127.95 L187.64,128.16 L188.60,128.42 L189.54,128.70 L190.46,129.03 L191.37,129.39 L192.26,129.79 L193.12,130.21 L193.96,130.67 L194.78,131.17 L195.58,131.69 L196.35,132.24 L197.11,132.82 L197.85,133.42 L198.57,134.06 L199.27,134.72 L199.95,135.40 L200.61,136.10 L201.26,136.83 L201.89,137.58 L202.51,138.35 L203.11,139.14 L203.70,139.95 L204.28,140.77 L204.84,141.62 L205.39,142.47 L205.93,143.34 L206.45,144.23 L206.97,145.12 L207.47,146.03 L207.97,146.95 L208.46,147.88 L208.94,148.81 L209.41,149.76 L209.87,150.70 L210.33,151.66 L210.78,152.62 L211.22,153.58 L211.67,154.54 L212.10,155.51 L212.54,156.48 L212.97,157.44 L213.39,158.41 L213.82,159.37 L214.24,160.33 L214.66,161.28 L215.08,162.24 L215.50,163.19 L215.92,164.14 L216.33,165.09 L216.75,166.04 L217.16,166.98 L217.57,167.93 L217.98,168.87 L218.40,169.81 L218.81,170.74 L219.22,171.68 L219.63,172.61 L220.04,173.54 L220.45,174.47 L220.86,175.40 L221.27,176.32 L221.68,177.24 L222.09,178.16 L222.50,179.08 L222.92,180.00 L223.33,180.92 L223.75,181.83 L224.16,182.74 L224.58,183.65 L225.00,184.56 L225.43,185.47 L225.85,186.37 L226.28,187.27 L226.70,188.18 L227.14,189.07 L227.57,189.97 L228.00,190.87 L228.44,191.76 L228.88,192.66 L229.33,193.55 L229.78,194.43 L230.23,195.32 L230.68,196.21 L231.14,197.09 L231.60,197.97 L232.07,198.86 L232.54,199.74 L233.01,200.61 L233.49,201.49 L233.97,202.36 L234.46,203.24 L234.95,204.11 L235.45,204.98 L235.95,205.85 L236.46,206.71 L236.97,207.58 L237.49,208.44 L238.01,209.31 L238.54,210.17 L239.07,211.03 L239.61,211.88 L240.16,212.74 L240.71,213.60 L241.27,214.45 L241.84,215.30 L242.41,216.16 L242.99,217.01 L243.58,217.85 L244.17,218.70 L244.78,219.54 L245.39,220.37 L246.02,221.19 L246.65,222.00 L247.30,222.80 L247.96,223.58 L248.63,224.35 L249.32,225.10 L250.03,225.83 L250.75,226.53 L251.49,227.21 L252.24,227.87 L253.02,228.49 L253.82,229.09 L254.63,229.65 L255.47,230.19 L256.32,230.69 L257.20,231.16 L258.09,231.61 L258.99,232.03 L259.91,232.43 L260.84,232.79 L261.78,233.14 L262.73,233.46 L263.69,233.76 L264.66,234.04 L265.63,234.30 L266.62,234.54 L267.60,234.77 L268.59,234.97 L269.59,235.16 L270.59,235.33 L271.59,235.49 L272.60,235.63 L273.62,235.76 L274.63,235.88 L275.65,235.98 L276.67,236.07 L277.70,236.15 L278.72,236.22 L279.75,236.28 L280.78,236.34 L281.81,236.38 L282.85,236.41 L283.88,236.44 L284.92,236.47 L285.95,236.48 L286.99,236.50 L288.02,236.51 L289.06,236.51 L290.09,236.51 L291.13,236.51 L292.16,236.51 L293.19,236.51 L294.23,236.51 L295.25,236.51 L296.28,236.51 L297.31,236.52 L298.33,236.52 L299.35,236.53 L300.37,236.53 L301.39,236.54 L302.41,236.55 L303.42,236.56 L304.44,236.57 L305.45,236.58 L306.47,236.59 L307.48,236.60 L308.49,236.62 L309.50,236.63 L310.51,236.65 L311.51,236.66 L312.52,236.67 L313.53,236.69 L314.54,236.70 L315.54,236.72 L316.55,236.73 L317.56,236.75 L318.56,236.76 L319.57,236.77 L320.58,236.79 L321.58,236.80 L322.59,236.81 L323.60,236.83 L324.60,236.84 L325.61,236.85 L326.62,236.86 L327.63,236.86 L328.64,236.87 L329.65,236.88 L330.67,236.88 L331.68,236.89 L332.70,236.89 L333.71,236.89 L334.73,236.89 L335.75,236.89 L336.77,236.89 L337.79,236.88 L338.81,236.87 L339.84,236.87 L340.87,236.85 L341.90,236.84 L342.93,236.83 L343.96,236.81 L345.00,236.79 L346.03,236.77" fill="none" stroke="#c89018" stroke-width="2.00" stroke-linejoin="round" stroke-linecap="butt"/>
<line x1="44.00" y1="237.00" x2="49.00" y2="237.00" stroke="#333" stroke-width="1.4"/>
<text x="41.00" y="240.60" text-anchor="end" font-family='"Liberation Sans", sans-serif' font-weight="bold" font-size="10.4" fill="#1a1a1a">0.0</text>
<line x1="46.50" y1="218.41" x2="49.00" y2="218.41" stroke="#333" stroke-width="1.4"/>
<line x1="44.00" y1="199.83" x2="49.00" y2="199.83" stroke="#333" stroke-width="1.4"/>
<text x="41.00" y="203.43" text-anchor="end" font-family='"Liberation Sans", sans-serif' font-weight="bold" font-size="10.4" fill="#1a1a1a">0.1</text>
<line x1="46.50" y1="181.25" x2="49.00" y2="181.25" stroke="#333" stroke-width="1.4"/>
<line x1="44.00" y1="162.66" x2="49.00" y2="162.66" stroke="#333" stroke-width="1.4"/>
<text x="41.00" y="166.26" text-anchor="end" font-family='"Liberation Sans", sans-serif' font-weight="bold" font-size="10.4" fill="#1a1a1a">0.2</text>
<line x1="46.50" y1="144.07" x2="49.00" y2="144.07" stroke="#333" stroke-width="1.4"/>
<line x1="44.00" y1="125.49" x2="49.00" y2="125.49" stroke="#333" stroke-width="1.4"/>
<text x="41.00" y="129.09" text-anchor="end" font-family='"Liberation Sans", sans-serif' font-weight="bold" font-size="10.4" fill="#1a1a1a">0.3</text>
<line x1="46.50" y1="106.91" x2="49.00" y2="106.91" stroke="#333" stroke-width="1.4"/>
<line x1="44.00" y1="88.32" x2="49.00" y2="88.32" stroke="#333" stroke-width="1.4"/>
<text x="41.00" y="91.92" text-anchor="end" font-family='"Liberation Sans", sans-serif' font-weight="bold" font-size="10.4" fill="#1a1a1a">0.4</text>
<line x1="46.50" y1="69.74" x2="49.00" y2="69.74" stroke="#333" stroke-width="1.4"/>
<line x1="44.00" y1="51.15" x2="49.00" y2="51.15" stroke="#333" stroke-width="1.4"/>
<text x="41.00" y="54.75" text-anchor="end" font-family='"Liberation Sans", sans-serif' font-weight="bold" font-size="10.4" fill="#1a1a1a">0.5</text>
<line x1="46.50" y1="32.56" x2="49.00" y2="32.56" stroke="#333" stroke-width="1.4"/>
<line x1="44.00" y1="13.98" x2="49.00" y2="13.98" stroke="#333" stroke-width="1.4"/>
<text x="41.00" y="17.58" text-anchor="end" font-family='"Liberation Sans", sans-serif' font-weight="bold" font-size="10.4" fill="#1a1a1a">0.6</text>
<line x1="49.00" y1="237.00" x2="49.00" y2="242.00" stroke="#333" stroke-width="1.4"/>
<text x="49.00" y="253.60" text-anchor="middle" font-family='"Liberation Sans", sans-serif' font-weight="bold" font-size="10.4" fill="#1a1a1a">300</text>
<line x1="82.06" y1="237.00" x2="82.06" y2="239.50" stroke="#333" stroke-width="1.4"/>
<line x1="115.11" y1="237.00" x2="115.11" y2="242.00" stroke="#333" stroke-width="1.4"/>
<text x="115.11" y="253.60" text-anchor="middle" font-family='"Liberation Sans", sans-serif' font-weight="bold" font-size="10.4" fill="#1a1a1a">400</text>
<line x1="148.17" y1="237.00" x2="148.17" y2="239.50" stroke="#333" stroke-width="1.4"/>
<line x1="181.22" y1="237.00" x2="181.22" y2="242.00" stroke="#333" stroke-width="1.4"/>
<text x="181.22" y="253.60" text-anchor="middle" font-family='"Liberation Sans", sans-serif' font-weight="bold" font-size="10.4" fill="#1a1a1a">500</text>
<line x1="214.28" y1="237.00" x2="214.28" y2="239.50" stroke="#333" stroke-width="1.4"/>
<line x1="247.33" y1="237.00" x2="247.33" y2="242.00" stroke="#333" stroke-width="1.4"/>
<text x="247.33" y="253.60" text-anchor="middle" font-family='"Liberation Sans", sans-serif' font-weight="bold" font-size="10.4" fill="#1a1a1a">600</text>
<line x1="280.39" y1="237.00" x2="280.39" y2="239.50" stroke="#333" stroke-width="1.4"/>
<line x1="313.44" y1="237.00" x2="313.44" y2="242.00" stroke="#333" stroke-width="1.4"/>
<text x="313.44" y="253.60" text-anchor="middle" font-family='"Liberation Sans", sans-serif' font-weight="bold" font-size="10.4" fill="#1a1a1a">700</text>
<line x1="346.50" y1="237.00" x2="346.50" y2="239.50" stroke="#333" stroke-width="1.4"/>
<line x1="222.30" y1="10.00" x2="246.80" y2="10.00" stroke="#000000" stroke-width="2.2"/>
<text x="249.30" y="13.60" font-family='"Liberation Sans", sans-serif' font-size="10.10" fill="#111">Before aging process</text>
<line x1="222.30" y1="22.20" x2="246.80" y2="22.20" stroke="#ff0000" stroke-width="2.2"/>
<text x="249.30" y="25.80" font-family='"Liberation Sans", sans-serif' font-size="10.10" fill="#111">2 h aging process</text>
<line x1="222.30" y1="34.40" x2="246.80" y2="34.40" stroke="#3a7ee8" stroke-width="2.2"/>
<text x="249.30" y="38.00" font-family='"Liberation Sans", sans-serif' font-size="10.10" fill="#111">5 h aging process</text>
<line x1="222.30" y1="46.60" x2="246.80" y2="46.60" stroke="#00e000" stroke-width="2.2"/>
<text x="249.30" y="50.20" font-family='"Liberation Sans", sans-serif' font-size="10.10" fill="#111">10 h aging process</text>
<line x1="222.30" y1="58.80" x2="246.80" y2="58.80" stroke="#a57ae0" stroke-width="2.2"/>
<text x="249.30" y="62.40" font-family='"Liberation Sans", sans-serif' font-size="10.10" fill="#111">30 h aging process</text>
<line x1="222.30" y1="71.00" x2="246.80" y2="71.00" stroke="#c89018" stroke-width="2.2"/>
<text x="249.30" y="74.60" font-family='"Liberation Sans", sans-serif' font-size="10.10" fill="#111">50 h aging process</text>
<text x="58.00" y="19.00" font-family='"Liberation Serif", serif' font-weight="bold" font-size="16.50" fill="#000">(a)</text>
<text transform="translate(10.70,111.50) rotate(-90)" text-anchor="middle" font-family='"Liberation Sans", sans-serif' font-weight="bold" font-size="13.3" fill="#111">Absorbance</text>
<text x="197.75" y="274.40" text-anchor="middle" font-family='"Liberation Sans", sans-serif' font-weight="bold" font-size="13.4" fill="#111">Wavelength (nm)</text>
<line x1="412.60" y1="0.75" x2="412.60" y2="238.70" stroke="#111" stroke-width="1.40"/>
<line x1="411.90" y1="1.40" x2="707.10" y2="1.40" stroke="#111" stroke-width="1.30"/>
<line x1="706.40" y1="0.75" x2="706.40" y2="238.70" stroke="#111" stroke-width="1.40"/>
<line x1="411.90" y1="237.90" x2="707.10" y2="237.90" stroke="#333" stroke-width="1.60"/>
<path d="M412.38,133.07 L413.27,134.01 L414.15,134.94 L415.00,135.87 L415.83,136.80 L416.65,137.72 L417.45,138.65 L418.23,139.57 L418.99,140.50 L419.74,141.43 L420.47,142.35 L421.19,143.28 L421.90,144.21 L422.59,145.14 L423.27,146.08 L423.94,147.02 L424.60,147.97 L425.25,148.92 L425.89,149.87 L426.52,150.83 L427.14,151.80 L427.75,152.78 L428.36,153.76 L428.97,154.75 L429.56,155.75 L430.16,156.76 L430.75,157.78 L431.33,158.80 L431.92,159.84 L432.50,160.89 L433.08,161.96 L433.67,163.03 L434.25,164.12 L434.83,165.21 L435.42,166.32 L436.02,167.42 L436.61,168.53 L437.22,169.64 L437.83,170.74 L438.45,171.84 L439.08,172.93 L439.72,174.02 L440.38,175.09 L441.04,176.14 L441.73,177.18 L442.42,178.21 L443.14,179.21 L443.87,180.18 L444.62,181.14 L445.39,182.06 L446.18,182.95 L446.99,183.82 L447.83,184.64 L448.69,185.43 L449.58,186.18 L450.49,186.89 L451.44,187.56 L452.41,188.17 L453.41,188.74 L454.44,189.26 L455.51,189.73 L456.61,190.14 L457.74,190.50 L458.89,190.79 L460.07,191.02 L461.26,191.20 L462.45,191.31 L463.65,191.35 L464.84,191.33 L466.02,191.24 L467.18,191.08 L468.32,190.85 L469.43,190.55 L470.50,190.18 L471.53,189.73 L472.52,189.20 L473.46,188.60 L474.35,187.93 L475.20,187.20 L476.01,186.40 L476.78,185.56 L477.51,184.66 L478.21,183.71 L478.88,182.72 L479.51,181.69 L480.12,180.63 L480.70,179.54 L481.25,178.43 L481.78,177.29 L482.29,176.14 L482.78,174.98 L483.25,173.81 L483.71,172.64 L484.15,171.47 L484.59,170.30 L485.01,169.14 L485.42,167.98 L485.83,166.82 L486.22,165.66 L486.61,164.51 L486.99,163.36 L487.37,162.22 L487.74,161.07 L488.11,159.93 L488.48,158.80 L488.85,157.66 L489.22,156.54 L489.58,155.41 L489.95,154.29 L490.33,153.17 L490.70,152.05 L491.08,150.94 L491.47,149.83 L491.86,148.72 L492.26,147.62 L492.67,146.52 L493.09,145.42 L493.51,144.33 L493.94,143.23 L494.37,142.14 L494.80,141.05 L495.24,139.96 L495.68,138.87 L496.11,137.77 L496.55,136.68 L496.98,135.58 L497.41,134.48 L497.83,133.37 L498.25,132.27 L498.66,131.15 L499.07,130.04 L499.46,128.91 L499.85,127.78 L500.23,126.65 L500.60,125.51 L500.97,124.37 L501.33,123.23 L501.69,122.08 L502.05,120.93 L502.40,119.79 L502.76,118.64 L503.11,117.49 L503.47,116.34 L503.83,115.19 L504.19,114.05 L504.55,112.91 L504.93,111.77 L505.31,110.63 L505.69,109.51 L506.09,108.38 L506.49,107.26 L506.90,106.15 L507.33,105.05 L507.77,103.95 L508.22,102.86 L508.68,101.78 L509.16,100.71 L509.66,99.65 L510.17,98.60 L510.70,97.56 L511.24,96.52 L511.80,95.50 L512.36,94.47 L512.94,93.45 L513.52,92.44 L514.11,91.42 L514.70,90.40 L515.30,89.38 L515.91,88.36 L516.51,87.33 L517.12,86.29 L517.72,85.25 L518.33,84.20 L518.93,83.14 L519.52,82.07 L520.11,80.98 L520.69,79.89 L521.27,78.78 L521.85,77.67 L522.43,76.56 L523.02,75.44 L523.61,74.33 L524.21,73.23 L524.82,72.13 L525.44,71.05 L526.07,69.98 L526.73,68.93 L527.40,67.90 L528.10,66.89 L528.82,65.92 L529.57,64.97 L530.34,64.05 L531.15,63.18 L531.99,62.34 L532.87,61.54 L533.78,60.79 L534.73,60.08 L535.71,59.42 L536.71,58.82 L537.74,58.26 L538.80,57.75 L539.87,57.30 L540.96,56.91 L542.06,56.57 L543.17,56.30 L544.28,56.08 L545.41,55.93 L546.53,55.84 L547.65,55.81 L548.77,55.85 L549.87,55.96 L550.97,56.15 L552.06,56.40 L553.12,56.73 L554.17,57.13 L555.19,57.60 L556.20,58.15 L557.17,58.77 L558.13,59.45 L559.06,60.19 L559.97,60.99 L560.85,61.83 L561.71,62.72 L562.54,63.65 L563.35,64.61 L564.13,65.61 L564.89,66.64 L565.62,67.68 L566.33,68.75 L567.01,69.83 L567.66,70.91 L568.29,72.00 L568.89,73.10 L569.46,74.20 L570.01,75.31 L570.54,76.42 L571.05,77.53 L571.53,78.65 L572.00,79.77 L572.44,80.90 L572.87,82.03 L573.28,83.16 L573.67,84.29 L574.05,85.43 L574.41,86.57 L574.76,87.71 L575.09,88.86 L575.42,90.00 L575.73,91.15 L576.03,92.30 L576.32,93.45 L576.61,94.61 L576.88,95.76 L577.15,96.92 L577.41,98.08 L577.67,99.23 L577.93,100.39 L578.18,101.55 L578.43,102.71 L578.68,103.87 L578.92,105.03 L579.17,106.19 L579.42,107.35 L579.68,108.51 L579.93,109.66 L580.19,110.82 L580.46,111.98 L580.73,113.13 L581.01,114.28 L581.29,115.43 L581.58,116.59 L581.88,117.74 L582.18,118.88 L582.49,120.03 L582.80,121.18 L583.11,122.33 L583.43,123.47 L583.75,124.62 L584.07,125.77 L584.40,126.91 L584.72,128.06 L585.05,129.21 L585.38,130.35 L585.71,131.50 L586.04,132.65 L586.37,133.80 L586.70,134.95 L587.03,136.10 L587.36,137.25 L587.68,138.40 L588.01,139.56 L588.33,140.72 L588.64,141.87 L588.96,143.03 L589.27,144.19 L589.57,145.36 L589.88,146.52 L590.17,147.69 L590.47,148.85 L590.77,150.02 L591.06,151.19 L591.35,152.36 L591.64,153.53 L591.92,154.71 L592.21,155.88 L592.49,157.05 L592.78,158.23 L593.06,159.40 L593.35,160.57 L593.63,161.75 L593.91,162.92 L594.20,164.09 L594.49,165.27 L594.77,166.44 L595.06,167.61 L595.36,168.78 L595.65,169.95 L595.95,171.12 L596.24,172.29 L596.55,173.46 L596.85,174.62 L597.16,175.78 L597.47,176.95 L597.79,178.11 L598.11,179.27 L598.44,180.42 L598.77,181.58 L599.10,182.73 L599.44,183.88 L599.79,185.03 L600.14,186.17 L600.50,187.31 L600.87,188.45 L601.24,189.59 L601.62,190.72 L602.01,191.85 L602.40,192.98 L602.80,194.10 L603.22,195.22 L603.63,196.34 L604.06,197.45 L604.50,198.56 L604.95,199.66 L605.40,200.76 L605.87,201.86 L606.34,202.95 L606.83,204.04 L607.33,205.12 L607.84,206.20 L608.36,207.27 L608.89,208.34 L609.43,209.40 L609.98,210.45 L610.55,211.51 L611.13,212.55 L611.72,213.59 L612.33,214.63 L612.95,215.65 L613.58,216.68 L614.23,217.69 L614.89,218.69 L615.57,219.68 L616.27,220.66 L616.98,221.62 L617.71,222.57 L618.46,223.49 L619.22,224.40 L620.01,225.29 L620.82,226.15 L621.64,226.99 L622.49,227.81 L623.36,228.60 L624.26,229.36 L625.17,230.08 L626.11,230.78 L627.08,231.44 L628.07,232.07 L629.09,232.66 L630.13,233.22 L631.20,233.73 L632.29,234.21 L633.42,234.64 L634.57,235.03 L635.74,235.38 L636.93,235.70 L638.14,235.98 L639.36,236.23 L640.59,236.45 L641.83,236.65 L643.07,236.82 L644.32,236.96 L645.56,237.09 L646.80,237.20 L648.04,237.29 L649.26,237.37 L650.47,237.43 L651.67,237.48 L652.84,237.53 L654.00,237.57 L655.13,237.61" fill="none" stroke="#1f6fe0" stroke-width="2.30" stroke-linejoin="round" stroke-linecap="butt"/>
<path d="M412.40,129.08 L413.35,129.88 L414.27,130.69 L415.18,131.50 L416.07,132.31 L416.95,133.13 L417.80,133.95 L418.64,134.78 L419.46,135.61 L420.27,136.45 L421.06,137.29 L421.84,138.14 L422.61,138.99 L423.36,139.85 L424.09,140.72 L424.82,141.59 L425.53,142.46 L426.23,143.35 L426.91,144.24 L427.59,145.13 L428.26,146.03 L428.92,146.94 L429.56,147.86 L430.20,148.78 L430.83,149.71 L431.46,150.65 L432.07,151.60 L432.68,152.55 L433.28,153.52 L433.88,154.49 L434.47,155.47 L435.05,156.45 L435.63,157.45 L436.21,158.46 L436.78,159.47 L437.35,160.49 L437.92,161.53 L438.49,162.57 L439.05,163.62 L439.62,164.68 L440.19,165.73 L440.77,166.79 L441.35,167.85 L441.95,168.90 L442.56,169.94 L443.19,170.97 L443.84,171.99 L444.51,172.99 L445.21,173.97 L445.93,174.93 L446.68,175.87 L447.46,176.77 L448.28,177.65 L449.13,178.49 L450.03,179.29 L450.96,180.06 L451.93,180.78 L452.93,181.44 L453.96,182.05 L455.01,182.59 L456.08,183.06 L457.16,183.45 L458.26,183.75 L459.36,183.96 L460.47,184.08 L461.58,184.09 L462.68,184.02 L463.77,183.85 L464.85,183.61 L465.92,183.30 L466.97,182.93 L468.00,182.50 L469.00,182.03 L469.97,181.52 L470.92,180.97 L471.83,180.39 L472.72,179.78 L473.58,179.14 L474.41,178.47 L475.21,177.77 L475.99,177.04 L476.74,176.29 L477.47,175.51 L478.18,174.70 L478.86,173.87 L479.52,173.01 L480.16,172.13 L480.78,171.22 L481.38,170.30 L481.96,169.35 L482.52,168.39 L483.06,167.41 L483.59,166.40 L484.10,165.38 L484.59,164.35 L485.07,163.29 L485.54,162.23 L485.99,161.15 L486.43,160.05 L486.86,158.95 L487.27,157.83 L487.68,156.70 L488.08,155.56 L488.46,154.42 L488.84,153.26 L489.21,152.10 L489.58,150.93 L489.94,149.76 L490.29,148.58 L490.64,147.39 L490.99,146.21 L491.33,145.02 L491.67,143.83 L492.01,142.64 L492.35,141.45 L492.68,140.26 L493.02,139.08 L493.36,137.89 L493.70,136.71 L494.05,135.54 L494.39,134.37 L494.75,133.21 L495.10,132.05 L495.47,130.90 L495.84,129.76 L496.21,128.63 L496.60,127.51 L496.99,126.40 L497.38,125.30 L497.79,124.21 L498.20,123.13 L498.62,122.05 L499.04,120.98 L499.47,119.92 L499.91,118.86 L500.35,117.81 L500.80,116.77 L501.25,115.74 L501.71,114.70 L502.18,113.68 L502.65,112.66 L503.13,111.64 L503.61,110.63 L504.09,109.62 L504.58,108.61 L505.07,107.61 L505.57,106.61 L506.08,105.61 L506.58,104.61 L507.09,103.62 L507.61,102.63 L508.13,101.63 L508.65,100.64 L509.17,99.65 L509.70,98.65 L510.23,97.66 L510.76,96.67 L511.30,95.67 L511.84,94.67 L512.38,93.68 L512.92,92.67 L513.47,91.67 L514.02,90.66 L514.56,89.65 L515.12,88.64 L515.67,87.62 L516.22,86.59 L516.78,85.57 L517.33,84.53 L517.89,83.49 L518.45,82.45 L519.00,81.40 L519.56,80.34 L520.13,79.28 L520.69,78.22 L521.27,77.16 L521.85,76.11 L522.45,75.07 L523.06,74.04 L523.68,73.02 L524.32,72.02 L524.98,71.03 L525.66,70.07 L526.37,69.13 L527.10,68.22 L527.85,67.34 L528.64,66.49 L529.45,65.68 L530.30,64.90 L531.19,64.17 L532.11,63.48 L533.07,62.83 L534.06,62.23 L535.09,61.68 L536.14,61.18 L537.22,60.72 L538.33,60.32 L539.45,59.97 L540.59,59.67 L541.74,59.43 L542.90,59.24 L544.06,59.10 L545.22,59.02 L546.39,59.00 L547.54,59.03 L548.69,59.12 L549.83,59.27 L550.95,59.49 L552.05,59.76 L553.13,60.10 L554.18,60.50 L555.21,60.96 L556.20,61.49 L557.16,62.07 L558.09,62.72 L558.98,63.42 L559.85,64.17 L560.68,64.96 L561.49,65.80 L562.27,66.66 L563.02,67.56 L563.75,68.49 L564.45,69.44 L565.13,70.41 L565.78,71.39 L566.41,72.38 L567.03,73.38 L567.62,74.39 L568.19,75.40 L568.74,76.43 L569.27,77.46 L569.78,78.50 L570.28,79.55 L570.76,80.60 L571.22,81.66 L571.67,82.73 L572.10,83.80 L572.52,84.88 L572.93,85.96 L573.32,87.05 L573.70,88.14 L574.07,89.24 L574.43,90.34 L574.78,91.44 L575.12,92.55 L575.45,93.67 L575.77,94.78 L576.09,95.90 L576.40,97.02 L576.70,98.14 L577.00,99.26 L577.29,100.39 L577.58,101.52 L577.87,102.64 L578.15,103.77 L578.43,104.90 L578.72,106.03 L579.00,107.15 L579.28,108.28 L579.56,109.41 L579.84,110.53 L580.13,111.66 L580.41,112.78 L580.70,113.90 L581.00,115.02 L581.30,116.13 L581.60,117.25 L581.90,118.36 L582.21,119.47 L582.52,120.58 L582.83,121.69 L583.14,122.80 L583.46,123.90 L583.77,125.01 L584.09,126.11 L584.40,127.22 L584.72,128.32 L585.04,129.43 L585.36,130.53 L585.67,131.64 L585.99,132.74 L586.31,133.85 L586.62,134.96 L586.93,136.06 L587.24,137.17 L587.55,138.28 L587.86,139.39 L588.17,140.50 L588.47,141.62 L588.77,142.73 L589.06,143.85 L589.36,144.97 L589.65,146.09 L589.93,147.21 L590.22,148.34 L590.50,149.46 L590.78,150.59 L591.06,151.71 L591.34,152.84 L591.62,153.97 L591.90,155.10 L592.17,156.23 L592.45,157.36 L592.72,158.50 L593.00,159.63 L593.27,160.76 L593.55,161.89 L593.82,163.02 L594.10,164.16 L594.38,165.29 L594.66,166.42 L594.94,167.55 L595.23,168.68 L595.51,169.81 L595.80,170.94 L596.09,172.07 L596.39,173.19 L596.68,174.32 L596.98,175.44 L597.29,176.57 L597.59,177.69 L597.91,178.81 L598.22,179.93 L598.54,181.04 L598.87,182.16 L599.20,183.27 L599.53,184.38 L599.87,185.49 L600.22,186.60 L600.57,187.70 L600.93,188.80 L601.29,189.90 L601.67,190.99 L602.04,192.09 L602.43,193.18 L602.82,194.26 L603.22,195.35 L603.63,196.43 L604.04,197.50 L604.47,198.58 L604.90,199.65 L605.34,200.71 L605.79,201.77 L606.25,202.83 L606.72,203.88 L607.20,204.93 L607.69,205.98 L608.19,207.02 L608.69,208.05 L609.21,209.08 L609.74,210.11 L610.29,211.13 L610.84,212.15 L611.40,213.16 L611.98,214.16 L612.57,215.16 L613.17,216.16 L613.78,217.15 L614.41,218.12 L615.05,219.09 L615.70,220.05 L616.38,220.99 L617.06,221.92 L617.77,222.83 L618.49,223.73 L619.23,224.60 L619.99,225.46 L620.77,226.29 L621.57,227.10 L622.39,227.89 L623.23,228.65 L624.10,229.38 L624.98,230.08 L625.89,230.75 L626.83,231.39 L627.78,232.00 L628.77,232.57 L629.78,233.11 L630.81,233.60 L631.88,234.06 L632.97,234.48 L634.09,234.85 L635.23,235.19 L636.39,235.50 L637.56,235.77 L638.75,236.02 L639.95,236.23 L641.16,236.43 L642.37,236.59 L643.58,236.74 L644.79,236.87 L646.00,236.99 L647.19,237.09 L648.37,237.19 L649.54,237.27 L650.69,237.35 L651.82,237.43 L652.92,237.51 L654.00,237.59 L655.04,237.67" fill="none" stroke="#2fa05a" stroke-width="2.30" stroke-linejoin="round" stroke-linecap="butt"/>
<path d="M412.43,143.69 L413.40,144.45 L414.34,145.22 L415.26,145.99 L416.16,146.77 L417.04,147.56 L417.90,148.36 L418.74,149.16 L419.56,149.97 L420.36,150.79 L421.14,151.62 L421.91,152.46 L422.66,153.30 L423.39,154.15 L424.11,155.01 L424.82,155.87 L425.52,156.75 L426.20,157.63 L426.88,158.52 L427.54,159.42 L428.19,160.33 L428.84,161.24 L429.48,162.16 L430.11,163.10 L430.73,164.04 L431.35,164.98 L431.97,165.94 L432.58,166.90 L433.19,167.88 L433.80,168.86 L434.40,169.85 L435.01,170.85 L435.61,171.86 L436.22,172.87 L436.83,173.89 L437.44,174.91 L438.06,175.93 L438.69,176.96 L439.33,177.97 L439.97,178.98 L440.63,179.98 L441.30,180.97 L441.99,181.94 L442.69,182.90 L443.40,183.83 L444.14,184.75 L444.90,185.64 L445.68,186.50 L446.48,187.34 L447.30,188.14 L448.15,188.91 L449.03,189.65 L449.94,190.34 L450.88,191.00 L451.85,191.61 L452.85,192.17 L453.88,192.69 L454.95,193.16 L456.04,193.57 L457.15,193.92 L458.28,194.21 L459.41,194.44 L460.55,194.60 L461.68,194.69 L462.81,194.71 L463.92,194.65 L465.02,194.51 L466.10,194.31 L467.16,194.03 L468.21,193.70 L469.23,193.30 L470.23,192.84 L471.22,192.32 L472.18,191.76 L473.12,191.14 L474.03,190.48 L474.92,189.78 L475.78,189.04 L476.62,188.27 L477.43,187.46 L478.21,186.63 L478.96,185.77 L479.69,184.89 L480.38,183.98 L481.04,183.07 L481.67,182.13 L482.28,181.18 L482.86,180.21 L483.42,179.23 L483.95,178.23 L484.45,177.22 L484.94,176.20 L485.41,175.16 L485.85,174.11 L486.28,173.05 L486.69,171.98 L487.09,170.91 L487.47,169.82 L487.83,168.72 L488.19,167.62 L488.53,166.50 L488.86,165.39 L489.18,164.26 L489.50,163.13 L489.81,162.00 L490.11,160.86 L490.41,159.72 L490.70,158.58 L491.00,157.43 L491.29,156.29 L491.58,155.14 L491.87,154.00 L492.16,152.85 L492.46,151.71 L492.77,150.57 L493.07,149.43 L493.39,148.29 L493.71,147.16 L494.05,146.04 L494.39,144.91 L494.74,143.80 L495.11,142.69 L495.49,141.59 L495.89,140.50 L496.30,139.42 L496.72,138.35 L497.16,137.28 L497.61,136.22 L498.07,135.17 L498.53,134.12 L498.99,133.07 L499.46,132.03 L499.92,130.99 L500.37,129.95 L500.81,128.91 L501.25,127.87 L501.67,126.83 L502.09,125.79 L502.50,124.75 L502.90,123.70 L503.30,122.66 L503.69,121.61 L504.08,120.57 L504.47,119.52 L504.85,118.47 L505.23,117.42 L505.61,116.37 L505.99,115.32 L506.37,114.26 L506.75,113.21 L507.13,112.15 L507.51,111.09 L507.90,110.03 L508.29,108.97 L508.69,107.90 L509.09,106.83 L509.50,105.76 L509.91,104.69 L510.33,103.62 L510.77,102.54 L511.21,101.46 L511.66,100.38 L512.12,99.30 L512.59,98.21 L513.07,97.13 L513.57,96.04 L514.08,94.96 L514.60,93.88 L515.13,92.81 L515.67,91.73 L516.23,90.67 L516.80,89.61 L517.38,88.56 L517.98,87.52 L518.59,86.48 L519.21,85.46 L519.85,84.46 L520.50,83.46 L521.17,82.48 L521.85,81.52 L522.55,80.57 L523.26,79.64 L523.99,78.72 L524.74,77.83 L525.50,76.96 L526.28,76.11 L527.07,75.28 L527.89,74.48 L528.72,73.70 L529.56,72.94 L530.43,72.22 L531.31,71.52 L532.21,70.85 L533.13,70.21 L534.07,69.60 L535.02,69.03 L536.00,68.49 L537.00,67.98 L538.01,67.51 L539.05,67.07 L540.10,66.67 L541.18,66.32 L542.27,66.00 L543.38,65.72 L544.51,65.50 L545.64,65.32 L546.78,65.20 L547.92,65.13 L549.06,65.13 L550.19,65.19 L551.32,65.32 L552.44,65.52 L553.54,65.78 L554.63,66.10 L555.69,66.48 L556.74,66.91 L557.76,67.40 L558.76,67.94 L559.72,68.53 L560.66,69.16 L561.56,69.84 L562.42,70.56 L563.25,71.31 L564.03,72.10 L564.78,72.93 L565.50,73.79 L566.18,74.68 L566.82,75.60 L567.44,76.54 L568.03,77.51 L568.60,78.51 L569.14,79.52 L569.65,80.56 L570.15,81.61 L570.62,82.68 L571.08,83.76 L571.51,84.86 L571.94,85.96 L572.35,87.08 L572.75,88.20 L573.14,89.33 L573.52,90.45 L573.90,91.59 L574.27,92.72 L574.64,93.84 L575.01,94.97 L575.37,96.09 L575.73,97.21 L576.08,98.33 L576.44,99.45 L576.79,100.57 L577.14,101.68 L577.48,102.80 L577.83,103.91 L578.17,105.02 L578.50,106.13 L578.84,107.23 L579.17,108.34 L579.50,109.44 L579.83,110.55 L580.16,111.65 L580.48,112.75 L580.80,113.85 L581.12,114.95 L581.44,116.05 L581.75,117.15 L582.06,118.25 L582.37,119.34 L582.68,120.44 L582.99,121.54 L583.29,122.63 L583.60,123.73 L583.90,124.82 L584.20,125.92 L584.50,127.01 L584.79,128.11 L585.09,129.21 L585.38,130.30 L585.67,131.40 L585.96,132.49 L586.25,133.59 L586.54,134.69 L586.83,135.79 L587.11,136.88 L587.40,137.98 L587.68,139.08 L587.96,140.18 L588.24,141.28 L588.52,142.39 L588.80,143.49 L589.08,144.59 L589.36,145.70 L589.63,146.81 L589.91,147.92 L590.19,149.02 L590.46,150.14 L590.73,151.25 L591.01,152.36 L591.28,153.48 L591.55,154.60 L591.82,155.72 L592.10,156.84 L592.37,157.96 L592.64,159.09 L592.91,160.21 L593.18,161.34 L593.45,162.47 L593.72,163.60 L594.00,164.74 L594.27,165.87 L594.55,167.00 L594.83,168.14 L595.11,169.27 L595.39,170.41 L595.68,171.54 L595.96,172.68 L596.25,173.81 L596.55,174.94 L596.85,176.08 L597.15,177.21 L597.45,178.34 L597.76,179.46 L598.08,180.59 L598.40,181.71 L598.72,182.84 L599.05,183.96 L599.38,185.07 L599.72,186.19 L600.07,187.30 L600.42,188.41 L600.78,189.51 L601.15,190.61 L601.52,191.71 L601.90,192.81 L602.29,193.90 L602.69,194.98 L603.09,196.06 L603.50,197.14 L603.93,198.21 L604.36,199.28 L604.79,200.34 L605.24,201.39 L605.70,202.44 L606.17,203.49 L606.65,204.53 L607.13,205.56 L607.63,206.58 L608.14,207.60 L608.66,208.62 L609.19,209.62 L609.74,210.62 L610.29,211.61 L610.86,212.59 L611.44,213.57 L612.03,214.53 L612.63,215.49 L613.25,216.44 L613.88,217.38 L614.53,218.32 L615.18,219.24 L615.86,220.16 L616.54,221.06 L617.24,221.96 L617.96,222.84 L618.69,223.72 L619.44,224.58 L620.20,225.42 L620.99,226.25 L621.79,227.06 L622.61,227.85 L623.44,228.62 L624.30,229.36 L625.18,230.07 L626.08,230.75 L627.00,231.41 L627.95,232.03 L628.92,232.62 L629.91,233.17 L630.93,233.68 L631.97,234.16 L633.04,234.59 L634.14,234.98 L635.25,235.33 L636.39,235.64 L637.54,235.93 L638.70,236.18 L639.88,236.40 L641.06,236.59 L642.25,236.76 L643.45,236.91 L644.64,237.03 L645.84,237.14 L647.03,237.23 L648.21,237.31 L649.38,237.38 L650.55,237.43 L651.69,237.49 L652.82,237.53 L653.93,237.58 L655.02,237.62" fill="none" stroke="#b07ae8" stroke-width="2.30" stroke-linejoin="round" stroke-linecap="butt"/>
<path d="M412.42,131.12 L413.37,132.06 L414.30,133.00 L415.21,133.94 L416.09,134.87 L416.95,135.81 L417.79,136.74 L418.61,137.68 L419.41,138.61 L420.19,139.54 L420.95,140.48 L421.69,141.42 L422.42,142.35 L423.13,143.30 L423.83,144.24 L424.52,145.19 L425.19,146.14 L425.85,147.10 L426.51,148.06 L427.15,149.03 L427.78,150.00 L428.41,150.98 L429.03,151.97 L429.64,152.97 L430.26,153.97 L430.86,154.98 L431.47,156.01 L432.07,157.04 L432.67,158.08 L433.27,159.13 L433.87,160.20 L434.48,161.28 L435.08,162.36 L435.70,163.47 L436.31,164.58 L436.93,165.70 L437.56,166.83 L438.20,167.96 L438.84,169.09 L439.50,170.21 L440.17,171.33 L440.84,172.45 L441.53,173.55 L442.24,174.64 L442.95,175.71 L443.69,176.76 L444.44,177.79 L445.20,178.80 L445.99,179.78 L446.79,180.72 L447.62,181.64 L448.47,182.52 L449.34,183.35 L450.23,184.15 L451.14,184.90 L452.08,185.61 L453.05,186.27 L454.05,186.87 L455.07,187.42 L456.12,187.91 L457.20,188.33 L458.31,188.70 L459.45,189.00 L460.61,189.23 L461.78,189.39 L462.96,189.47 L464.14,189.48 L465.31,189.42 L466.47,189.28 L467.60,189.05 L468.71,188.74 L469.78,188.35 L470.80,187.87 L471.78,187.31 L472.72,186.66 L473.61,185.94 L474.46,185.14 L475.27,184.29 L476.04,183.37 L476.78,182.40 L477.48,181.39 L478.16,180.33 L478.80,179.24 L479.41,178.11 L480.01,176.97 L480.57,175.80 L481.12,174.62 L481.65,173.43 L482.15,172.24 L482.65,171.06 L483.13,169.87 L483.59,168.70 L484.05,167.52 L484.48,166.35 L484.91,165.18 L485.33,164.01 L485.73,162.85 L486.13,161.68 L486.51,160.52 L486.89,159.36 L487.26,158.21 L487.62,157.05 L487.97,155.89 L488.32,154.74 L488.66,153.59 L489.00,152.43 L489.33,151.28 L489.66,150.13 L489.99,148.97 L490.31,147.82 L490.64,146.66 L490.96,145.51 L491.28,144.35 L491.60,143.19 L491.92,142.03 L492.24,140.87 L492.57,139.70 L492.90,138.53 L493.23,137.36 L493.56,136.19 L493.90,135.02 L494.24,133.85 L494.58,132.68 L494.93,131.50 L495.27,130.33 L495.63,129.15 L495.98,127.98 L496.34,126.81 L496.70,125.63 L497.06,124.46 L497.43,123.29 L497.81,122.13 L498.18,120.96 L498.56,119.80 L498.94,118.64 L499.33,117.48 L499.72,116.33 L500.11,115.18 L500.51,114.03 L500.91,112.89 L501.32,111.74 L501.73,110.61 L502.14,109.47 L502.56,108.34 L502.98,107.20 L503.41,106.07 L503.84,104.95 L504.28,103.82 L504.72,102.70 L505.16,101.58 L505.61,100.46 L506.07,99.34 L506.52,98.23 L506.99,97.11 L507.46,96.00 L507.93,94.89 L508.41,93.78 L508.89,92.67 L509.37,91.56 L509.87,90.46 L510.36,89.35 L510.87,88.25 L511.37,87.14 L511.89,86.04 L512.41,84.94 L512.93,83.84 L513.46,82.73 L513.99,81.63 L514.53,80.53 L515.08,79.43 L515.63,78.33 L516.18,77.23 L516.75,76.13 L517.31,75.02 L517.89,73.92 L518.47,72.82 L519.05,71.72 L519.64,70.61 L520.24,69.51 L520.84,68.40 L521.45,67.30 L522.08,66.20 L522.71,65.11 L523.36,64.04 L524.02,62.98 L524.71,61.93 L525.41,60.91 L526.14,59.92 L526.89,58.95 L527.67,58.02 L528.48,57.12 L529.32,56.26 L530.19,55.44 L531.10,54.67 L532.05,53.95 L533.03,53.28 L534.06,52.66 L535.13,52.10 L536.25,51.60 L537.39,51.16 L538.57,50.78 L539.77,50.46 L540.99,50.20 L542.23,50.01 L543.47,49.87 L544.72,49.80 L545.97,49.79 L547.21,49.84 L548.43,49.96 L549.64,50.14 L550.83,50.38 L552.00,50.69 L553.13,51.07 L554.22,51.51 L555.27,52.01 L556.27,52.58 L557.22,53.22 L558.13,53.91 L558.99,54.67 L559.80,55.48 L560.58,56.33 L561.32,57.24 L562.03,58.18 L562.70,59.17 L563.34,60.19 L563.96,61.24 L564.55,62.32 L565.11,63.42 L565.66,64.55 L566.19,65.69 L566.70,66.84 L567.20,68.01 L567.68,69.17 L568.16,70.35 L568.63,71.52 L569.10,72.69 L569.56,73.86 L570.01,75.02 L570.45,76.19 L570.89,77.36 L571.32,78.53 L571.75,79.70 L572.17,80.86 L572.59,82.03 L572.99,83.20 L573.40,84.37 L573.79,85.53 L574.19,86.70 L574.57,87.87 L574.95,89.03 L575.33,90.20 L575.70,91.36 L576.07,92.53 L576.43,93.70 L576.79,94.86 L577.14,96.03 L577.49,97.20 L577.84,98.36 L578.18,99.53 L578.51,100.70 L578.85,101.86 L579.17,103.03 L579.50,104.20 L579.82,105.36 L580.14,106.53 L580.46,107.70 L580.77,108.87 L581.08,110.04 L581.38,111.21 L581.69,112.38 L581.99,113.55 L582.29,114.72 L582.58,115.89 L582.88,117.06 L583.17,118.23 L583.46,119.40 L583.74,120.58 L584.03,121.75 L584.31,122.93 L584.60,124.10 L584.88,125.28 L585.16,126.45 L585.44,127.63 L585.71,128.81 L585.99,129.99 L586.26,131.17 L586.54,132.35 L586.81,133.53 L587.09,134.71 L587.36,135.89 L587.63,137.08 L587.91,138.26 L588.18,139.45 L588.45,140.63 L588.73,141.82 L589.00,143.01 L589.27,144.20 L589.55,145.39 L589.82,146.58 L590.10,147.78 L590.38,148.97 L590.66,150.16 L590.94,151.36 L591.22,152.55 L591.50,153.74 L591.79,154.94 L592.08,156.13 L592.37,157.33 L592.66,158.52 L592.95,159.72 L593.25,160.91 L593.55,162.10 L593.85,163.30 L594.16,164.49 L594.47,165.68 L594.78,166.87 L595.10,168.06 L595.42,169.25 L595.74,170.44 L596.07,171.62 L596.40,172.81 L596.73,173.99 L597.08,175.17 L597.42,176.35 L597.77,177.53 L598.13,178.70 L598.49,179.88 L598.85,181.05 L599.22,182.22 L599.60,183.39 L599.98,184.55 L600.37,185.71 L600.76,186.87 L601.16,188.03 L601.57,189.18 L601.98,190.33 L602.40,191.48 L602.83,192.63 L603.26,193.77 L603.70,194.91 L604.15,196.04 L604.60,197.17 L605.06,198.30 L605.53,199.42 L606.01,200.54 L606.50,201.66 L606.99,202.77 L607.50,203.88 L608.01,204.98 L608.53,206.08 L609.05,207.17 L609.59,208.26 L610.14,209.35 L610.69,210.43 L611.26,211.50 L611.83,212.57 L612.42,213.64 L613.01,214.70 L613.62,215.75 L614.23,216.80 L614.86,217.84 L615.50,218.87 L616.16,219.88 L616.83,220.89 L617.52,221.87 L618.22,222.84 L618.95,223.79 L619.70,224.72 L620.46,225.62 L621.25,226.51 L622.07,227.36 L622.91,228.19 L623.77,228.98 L624.67,229.75 L625.59,230.48 L626.54,231.18 L627.52,231.84 L628.54,232.46 L629.58,233.04 L630.67,233.58 L631.78,234.08 L632.94,234.53 L634.13,234.93 L635.34,235.30 L636.59,235.62 L637.85,235.91 L639.13,236.16 L640.43,236.39 L641.73,236.58 L643.03,236.75 L644.33,236.90 L645.63,237.02 L646.91,237.13 L648.19,237.23 L649.44,237.31 L650.67,237.38 L651.87,237.44 L653.03,237.50 L654.16,237.56 L655.25,237.62" fill="none" stroke="#000000" stroke-width="2.30" stroke-linejoin="round" stroke-linecap="butt"/>
<path d="M412.43,130.83 L413.37,131.75 L414.28,132.67 L415.17,133.59 L416.05,134.50 L416.90,135.42 L417.73,136.34 L418.54,137.25 L419.34,138.17 L420.12,139.09 L420.88,140.00 L421.62,140.93 L422.36,141.85 L423.07,142.78 L423.78,143.71 L424.47,144.64 L425.15,145.58 L425.82,146.52 L426.48,147.47 L427.13,148.42 L427.77,149.38 L428.41,150.35 L429.04,151.32 L429.66,152.30 L430.27,153.29 L430.89,154.28 L431.49,155.29 L432.10,156.30 L432.70,157.33 L433.30,158.36 L433.90,159.41 L434.51,160.46 L435.11,161.53 L435.71,162.61 L436.32,163.70 L436.93,164.80 L437.55,165.90 L438.17,167.01 L438.80,168.12 L439.43,169.23 L440.08,170.33 L440.74,171.43 L441.40,172.51 L442.08,173.59 L442.78,174.65 L443.49,175.69 L444.21,176.71 L444.96,177.70 L445.72,178.67 L446.49,179.62 L447.29,180.53 L448.12,181.41 L448.96,182.25 L449.83,183.05 L450.72,183.81 L451.64,184.52 L452.58,185.19 L453.56,185.81 L454.56,186.38 L455.59,186.89 L456.65,187.34 L457.75,187.73 L458.88,188.06 L460.04,188.32 L461.22,188.52 L462.41,188.65 L463.61,188.70 L464.81,188.69 L465.99,188.60 L467.16,188.43 L468.31,188.18 L469.43,187.86 L470.50,187.45 L471.53,186.96 L472.51,186.39 L473.43,185.73 L474.31,185.00 L475.13,184.20 L475.92,183.34 L476.66,182.42 L477.36,181.44 L478.03,180.42 L478.66,179.37 L479.26,178.27 L479.84,177.15 L480.40,176.01 L480.93,174.84 L481.44,173.67 L481.94,172.49 L482.43,171.32 L482.91,170.14 L483.37,168.97 L483.83,167.81 L484.28,166.65 L484.72,165.49 L485.15,164.33 L485.58,163.18 L486.00,162.03 L486.41,160.89 L486.81,159.75 L487.21,158.61 L487.60,157.47 L487.99,156.34 L488.37,155.20 L488.75,154.07 L489.13,152.94 L489.50,151.81 L489.87,150.69 L490.24,149.56 L490.61,148.44 L490.97,147.31 L491.33,146.19 L491.70,145.07 L492.06,143.94 L492.42,142.82 L492.78,141.70 L493.15,140.57 L493.51,139.45 L493.88,138.33 L494.25,137.20 L494.62,136.07 L494.99,134.95 L495.37,133.82 L495.75,132.69 L496.13,131.57 L496.51,130.44 L496.89,129.31 L497.27,128.18 L497.66,127.05 L498.05,125.92 L498.44,124.79 L498.83,123.66 L499.22,122.53 L499.62,121.40 L500.02,120.27 L500.42,119.13 L500.82,118.00 L501.22,116.87 L501.63,115.74 L502.04,114.60 L502.45,113.47 L502.86,112.34 L503.27,111.21 L503.69,110.07 L504.11,108.94 L504.53,107.80 L504.95,106.67 L505.37,105.54 L505.80,104.40 L506.23,103.27 L506.66,102.13 L507.09,101.00 L507.52,99.87 L507.96,98.73 L508.40,97.60 L508.84,96.47 L509.29,95.34 L509.74,94.21 L510.20,93.08 L510.66,91.95 L511.12,90.83 L511.59,89.71 L512.07,88.59 L512.55,87.48 L513.04,86.37 L513.54,85.26 L514.04,84.16 L514.56,83.06 L515.08,81.97 L515.61,80.89 L516.15,79.81 L516.70,78.73 L517.26,77.66 L517.84,76.60 L518.42,75.55 L519.01,74.50 L519.62,73.46 L520.24,72.43 L520.87,71.41 L521.52,70.40 L522.18,69.39 L522.85,68.40 L523.54,67.42 L524.24,66.44 L524.96,65.48 L525.70,64.52 L526.45,63.58 L527.22,62.65 L528.00,61.73 L528.81,60.82 L529.63,59.94 L530.47,59.07 L531.34,58.23 L532.24,57.43 L533.17,56.67 L534.12,55.96 L535.12,55.31 L536.15,54.71 L537.22,54.18 L538.32,53.72 L539.46,53.33 L540.63,53.01 L541.81,52.75 L543.02,52.56 L544.24,52.44 L545.46,52.38 L546.69,52.39 L547.92,52.46 L549.14,52.60 L550.35,52.80 L551.54,53.06 L552.70,53.39 L553.84,53.78 L554.95,54.23 L556.02,54.74 L557.05,55.31 L558.04,55.94 L558.97,56.63 L559.86,57.38 L560.69,58.18 L561.49,59.02 L562.25,59.91 L562.96,60.85 L563.65,61.81 L564.30,62.82 L564.92,63.85 L565.52,64.90 L566.09,65.98 L566.64,67.08 L567.17,68.19 L567.69,69.31 L568.20,70.44 L568.69,71.57 L569.18,72.70 L569.66,73.83 L570.13,74.96 L570.60,76.10 L571.06,77.23 L571.51,78.37 L571.95,79.50 L572.38,80.64 L572.81,81.78 L573.23,82.92 L573.65,84.06 L574.06,85.20 L574.46,86.34 L574.86,87.48 L575.25,88.62 L575.63,89.77 L576.01,90.91 L576.38,92.06 L576.75,93.20 L577.11,94.35 L577.47,95.50 L577.82,96.65 L578.17,97.80 L578.51,98.95 L578.85,100.10 L579.18,101.25 L579.51,102.40 L579.83,103.55 L580.15,104.71 L580.47,105.86 L580.78,107.02 L581.09,108.17 L581.40,109.33 L581.70,110.49 L582.00,111.65 L582.30,112.81 L582.59,113.97 L582.88,115.13 L583.17,116.29 L583.45,117.45 L583.74,118.61 L584.02,119.78 L584.30,120.94 L584.57,122.10 L584.85,123.27 L585.12,124.44 L585.40,125.60 L585.67,126.77 L585.94,127.94 L586.21,129.11 L586.47,130.28 L586.74,131.45 L587.01,132.62 L587.27,133.79 L587.54,134.96 L587.81,136.14 L588.07,137.31 L588.34,138.49 L588.60,139.66 L588.87,140.84 L589.14,142.01 L589.41,143.19 L589.68,144.37 L589.95,145.55 L590.22,146.72 L590.49,147.90 L590.76,149.08 L591.04,150.26 L591.31,151.44 L591.59,152.62 L591.87,153.80 L592.16,154.98 L592.44,156.16 L592.73,157.34 L593.02,158.52 L593.31,159.69 L593.60,160.87 L593.90,162.05 L594.20,163.23 L594.51,164.40 L594.81,165.58 L595.12,166.75 L595.44,167.92 L595.76,169.09 L596.08,170.26 L596.40,171.43 L596.73,172.60 L597.07,173.76 L597.40,174.93 L597.75,176.09 L598.09,177.25 L598.44,178.41 L598.80,179.57 L599.16,180.72 L599.53,181.88 L599.90,183.03 L600.28,184.18 L600.66,185.32 L601.05,186.47 L601.44,187.61 L601.84,188.75 L602.25,189.89 L602.66,191.02 L603.08,192.15 L603.50,193.28 L603.94,194.40 L604.37,195.53 L604.82,196.65 L605.27,197.76 L605.73,198.87 L606.20,199.98 L606.67,201.09 L607.15,202.19 L607.64,203.29 L608.14,204.38 L608.64,205.47 L609.16,206.56 L609.68,207.64 L610.21,208.72 L610.74,209.80 L611.29,210.87 L611.84,211.93 L612.41,212.99 L612.98,214.05 L613.56,215.10 L614.15,216.15 L614.76,217.19 L615.37,218.22 L616.00,219.24 L616.64,220.25 L617.30,221.24 L617.97,222.22 L618.67,223.18 L619.38,224.12 L620.12,225.04 L620.87,225.93 L621.65,226.80 L622.46,227.65 L623.29,228.46 L624.15,229.25 L625.03,230.00 L625.95,230.71 L626.89,231.40 L627.87,232.04 L628.89,232.64 L629.93,233.20 L631.02,233.72 L632.14,234.20 L633.29,234.63 L634.49,235.01 L635.71,235.35 L636.96,235.65 L638.22,235.92 L639.51,236.16 L640.80,236.36 L642.10,236.54 L643.39,236.70 L644.69,236.83 L645.97,236.95 L647.24,237.06 L648.50,237.15 L649.72,237.24 L650.92,237.32 L652.09,237.40 L653.22,237.48 L654.30,237.56 L655.34,237.65" fill="none" stroke="#ee3838" stroke-width="2.30" stroke-linejoin="round" stroke-linecap="butt"/>
<path d="M412.55,145.80 L413.22,146.73 L413.90,147.64 L414.60,148.54 L415.30,149.43 L416.02,150.31 L416.75,151.18 L417.49,152.04 L418.24,152.90 L418.99,153.74 L419.75,154.58 L420.51,155.42 L421.27,156.25 L422.04,157.09 L422.80,157.92 L423.57,158.75 L424.33,159.58 L425.09,160.42 L425.84,161.25 L426.59,162.10 L427.33,162.95 L428.06,163.80 L428.78,164.67 L429.49,165.54 L430.19,166.42 L430.87,167.31 L431.54,168.22 L432.19,169.14 L432.83,170.07 L433.45,171.02 L434.05,171.99 L434.63,172.96 L435.19,173.96 L435.75,174.95 L436.30,175.96 L436.84,176.97 L437.38,177.98 L437.93,178.99 L438.47,180.00 L439.02,181.00 L439.58,182.00 L440.15,182.98 L440.74,183.95 L441.35,184.91 L441.97,185.84 L442.62,186.76 L443.30,187.65 L444.01,188.52 L444.75,189.36 L445.52,190.17 L446.33,190.95 L447.18,191.69 L448.08,192.39 L449.02,193.05 L450.01,193.68 L451.06,194.25 L452.14,194.78 L453.26,195.26 L454.42,195.68 L455.59,196.05 L456.78,196.36 L457.97,196.61 L459.17,196.79 L460.36,196.91 L461.54,196.96 L462.70,196.93 L463.83,196.84 L464.93,196.67 L466.01,196.44 L467.06,196.14 L468.09,195.78 L469.09,195.36 L470.07,194.89 L471.02,194.36 L471.94,193.79 L472.83,193.16 L473.70,192.50 L474.55,191.79 L475.37,191.04 L476.16,190.26 L476.92,189.45 L477.66,188.61 L478.37,187.74 L479.05,186.85 L479.71,185.93 L480.34,185.00 L480.95,184.06 L481.53,183.10 L482.08,182.13 L482.61,181.14 L483.12,180.15 L483.61,179.14 L484.08,178.12 L484.53,177.10 L484.96,176.06 L485.38,175.01 L485.79,173.96 L486.18,172.90 L486.56,171.83 L486.92,170.75 L487.28,169.67 L487.63,168.59 L487.98,167.50 L488.32,166.40 L488.65,165.30 L488.99,164.20 L489.32,163.10 L489.65,161.99 L489.98,160.89 L490.31,159.78 L490.65,158.68 L490.99,157.57 L491.34,156.47 L491.69,155.36 L492.06,154.26 L492.43,153.17 L492.81,152.07 L493.21,150.99 L493.62,149.90 L494.05,148.82 L494.49,147.75 L494.95,146.69 L495.42,145.63 L495.90,144.57 L496.39,143.53 L496.88,142.49 L497.37,141.45 L497.86,140.42 L498.33,139.40 L498.80,138.38 L499.25,137.36 L499.70,136.35 L500.13,135.34 L500.56,134.33 L500.98,133.32 L501.39,132.32 L501.80,131.31 L502.20,130.31 L502.60,129.30 L502.99,128.29 L503.38,127.28 L503.77,126.26 L504.15,125.25 L504.53,124.23 L504.91,123.20 L505.29,122.17 L505.68,121.13 L506.06,120.08 L506.44,119.03 L506.83,117.97 L507.22,116.90 L507.61,115.82 L508.01,114.74 L508.41,113.66 L508.82,112.56 L509.23,111.47 L509.64,110.37 L510.06,109.27 L510.49,108.16 L510.92,107.06 L511.36,105.96 L511.81,104.86 L512.27,103.76 L512.73,102.66 L513.20,101.57 L513.68,100.48 L514.17,99.39 L514.67,98.31 L515.18,97.24 L515.70,96.18 L516.23,95.12 L516.78,94.07 L517.33,93.03 L517.89,92.01 L518.47,90.99 L519.06,89.99 L519.67,89.00 L520.28,88.02 L520.92,87.06 L521.56,86.12 L522.22,85.19 L522.90,84.28 L523.59,83.38 L524.29,82.51 L525.02,81.65 L525.76,80.82 L526.51,80.00 L527.29,79.21 L528.08,78.44 L528.89,77.70 L529.72,76.97 L530.57,76.28 L531.43,75.61 L532.32,74.97 L533.23,74.35 L534.16,73.76 L535.11,73.21 L536.08,72.68 L537.07,72.18 L538.08,71.72 L539.12,71.28 L540.18,70.89 L541.26,70.52 L542.36,70.19 L543.47,69.91 L544.59,69.66 L545.72,69.46 L546.85,69.31 L547.98,69.21 L549.11,69.16 L550.22,69.16 L551.32,69.23 L552.41,69.35 L553.47,69.53 L554.51,69.78 L555.52,70.10 L556.50,70.48 L557.45,70.94 L558.35,71.47 L559.21,72.08 L560.03,72.77 L560.80,73.52 L561.54,74.33 L562.24,75.18 L562.91,76.08 L563.56,77.01 L564.17,77.98 L564.76,78.97 L565.33,79.98 L565.88,81.01 L566.42,82.06 L566.94,83.12 L567.45,84.18 L567.95,85.26 L568.44,86.33 L568.93,87.40 L569.41,88.47 L569.89,89.55 L570.36,90.62 L570.83,91.69 L571.29,92.76 L571.74,93.82 L572.20,94.89 L572.64,95.96 L573.09,97.03 L573.52,98.09 L573.95,99.16 L574.38,100.22 L574.81,101.29 L575.22,102.35 L575.64,103.42 L576.05,104.48 L576.45,105.54 L576.86,106.61 L577.25,107.67 L577.65,108.74 L578.04,109.80 L578.42,110.86 L578.80,111.93 L579.18,112.99 L579.55,114.05 L579.92,115.12 L580.29,116.18 L580.65,117.25 L581.01,118.31 L581.36,119.38 L581.72,120.44 L582.07,121.51 L582.41,122.58 L582.75,123.65 L583.09,124.71 L583.43,125.78 L583.76,126.85 L584.09,127.92 L584.42,128.99 L584.74,130.06 L585.06,131.14 L585.38,132.21 L585.70,133.28 L586.01,134.36 L586.32,135.44 L586.63,136.51 L586.94,137.59 L587.24,138.67 L587.54,139.75 L587.84,140.84 L588.14,141.92 L588.43,143.01 L588.72,144.09 L589.01,145.18 L589.30,146.27 L589.59,147.36 L589.88,148.45 L590.16,149.55 L590.44,150.64 L590.72,151.74 L591.00,152.84 L591.28,153.94 L591.55,155.04 L591.83,156.15 L592.10,157.25 L592.37,158.36 L592.65,159.47 L592.92,160.59 L593.19,161.70 L593.46,162.81 L593.73,163.93 L594.00,165.05 L594.27,166.16 L594.54,167.28 L594.81,168.40 L595.09,169.52 L595.36,170.64 L595.64,171.76 L595.92,172.88 L596.20,173.99 L596.49,175.11 L596.78,176.23 L597.07,177.34 L597.37,178.46 L597.67,179.57 L597.97,180.68 L598.28,181.79 L598.59,182.90 L598.91,184.00 L599.23,185.10 L599.56,186.20 L599.89,187.30 L600.23,188.39 L600.58,189.48 L600.93,190.57 L601.29,191.65 L601.66,192.73 L602.04,193.81 L602.42,194.88 L602.81,195.95 L603.21,197.01 L603.61,198.07 L604.03,199.13 L604.45,200.18 L604.89,201.22 L605.33,202.26 L605.79,203.29 L606.25,204.32 L606.72,205.34 L607.21,206.35 L607.70,207.36 L608.21,208.37 L608.73,209.36 L609.26,210.35 L609.80,211.33 L610.36,212.31 L610.92,213.27 L611.50,214.23 L612.10,215.18 L612.70,216.13 L613.32,217.06 L613.96,217.99 L614.61,218.91 L615.27,219.82 L615.95,220.72 L616.64,221.61 L617.35,222.50 L618.07,223.37 L618.81,224.23 L619.57,225.07 L620.34,225.90 L621.13,226.72 L621.94,227.51 L622.77,228.28 L623.62,229.02 L624.49,229.74 L625.38,230.43 L626.29,231.09 L627.22,231.72 L628.17,232.32 L629.15,232.88 L630.15,233.40 L631.17,233.88 L632.22,234.31 L633.29,234.71 L634.38,235.06 L635.50,235.38 L636.63,235.66 L637.77,235.91 L638.93,236.12 L640.09,236.32 L641.26,236.48 L642.44,236.63 L643.61,236.76 L644.79,236.87 L645.96,236.98 L647.13,237.07 L648.28,237.15 L649.43,237.23 L650.56,237.31 L651.67,237.40 L652.76,237.48 L653.84,237.58 L654.88,237.68" fill="none" stroke="#d49a10" stroke-width="2.30" stroke-linejoin="round" stroke-linecap="butt"/>
<line x1="407.60" y1="237.90" x2="412.60" y2="237.90" stroke="#222" stroke-width="1.4"/>
<text x="404.00" y="241.50" text-anchor="end" font-family='"Liberation Sans", sans-serif' font-weight="bold" font-size="10.4" fill="#1a1a1a">0.0</text>
<line x1="410.10" y1="219.16" x2="412.60" y2="219.16" stroke="#222" stroke-width="1.4"/>
<line x1="407.60" y1="200.42" x2="412.60" y2="200.42" stroke="#222" stroke-width="1.4"/>
<text x="404.00" y="204.02" text-anchor="end" font-family='"Liberation Sans", sans-serif' font-weight="bold" font-size="10.4" fill="#1a1a1a">0.1</text>
<line x1="410.10" y1="181.68" x2="412.60" y2="181.68" stroke="#222" stroke-width="1.4"/>
<line x1="407.60" y1="162.94" x2="412.60" y2="162.94" stroke="#222" stroke-width="1.4"/>
<text x="404.00" y="166.54" text-anchor="end" font-family='"Liberation Sans", sans-serif' font-weight="bold" font-size="10.4" fill="#1a1a1a">0.2</text>
<line x1="410.10" y1="144.20" x2="412.60" y2="144.20" stroke="#222" stroke-width="1.4"/>
<line x1="407.60" y1="125.46" x2="412.60" y2="125.46" stroke="#222" stroke-width="1.4"/>
<text x="404.00" y="129.06" text-anchor="end" font-family='"Liberation Sans", sans-serif' font-weight="bold" font-size="10.4" fill="#1a1a1a">0.3</text>
<line x1="410.10" y1="106.72" x2="412.60" y2="106.72" stroke="#222" stroke-width="1.4"/>
<line x1="407.60" y1="87.98" x2="412.60" y2="87.98" stroke="#222" stroke-width="1.4"/>
<text x="404.00" y="91.58" text-anchor="end" font-family='"Liberation Sans", sans-serif' font-weight="bold" font-size="10.4" fill="#1a1a1a">0.4</text>
<line x1="410.10" y1="69.24" x2="412.60" y2="69.24" stroke="#222" stroke-width="1.4"/>
<line x1="407.60" y1="50.50" x2="412.60" y2="50.50" stroke="#222" stroke-width="1.4"/>
<text x="404.00" y="54.10" text-anchor="end" font-family='"Liberation Sans", sans-serif' font-weight="bold" font-size="10.4" fill="#1a1a1a">0.5</text>
<line x1="410.10" y1="31.76" x2="412.60" y2="31.76" stroke="#222" stroke-width="1.4"/>
<line x1="407.60" y1="13.02" x2="412.60" y2="13.02" stroke="#222" stroke-width="1.4"/>
<text x="404.00" y="16.62" text-anchor="end" font-family='"Liberation Sans", sans-serif' font-weight="bold" font-size="10.4" fill="#1a1a1a">0.6</text>
<line x1="412.60" y1="237.90" x2="412.60" y2="242.90" stroke="#222" stroke-width="1.4"/>
<text x="412.60" y="254.80" text-anchor="middle" font-family='"Liberation Sans", sans-serif' font-weight="bold" font-size="10.4" fill="#1a1a1a">300</text>
<line x1="445.24" y1="237.90" x2="445.24" y2="240.40" stroke="#222" stroke-width="1.4"/>
<line x1="477.89" y1="237.90" x2="477.89" y2="242.90" stroke="#222" stroke-width="1.4"/>
<text x="477.89" y="254.80" text-anchor="middle" font-family='"Liberation Sans", sans-serif' font-weight="bold" font-size="10.4" fill="#1a1a1a">400</text>
<line x1="510.53" y1="237.90" x2="510.53" y2="240.40" stroke="#222" stroke-width="1.4"/>
<line x1="543.18" y1="237.90" x2="543.18" y2="242.90" stroke="#222" stroke-width="1.4"/>
<text x="543.18" y="254.80" text-anchor="middle" font-family='"Liberation Sans", sans-serif' font-weight="bold" font-size="10.4" fill="#1a1a1a">500</text>
<line x1="575.82" y1="237.90" x2="575.82" y2="240.40" stroke="#222" stroke-width="1.4"/>
<line x1="608.47" y1="237.90" x2="608.47" y2="242.90" stroke="#222" stroke-width="1.4"/>
<text x="608.47" y="254.80" text-anchor="middle" font-family='"Liberation Sans", sans-serif' font-weight="bold" font-size="10.4" fill="#1a1a1a">600</text>
<line x1="641.11" y1="237.90" x2="641.11" y2="240.40" stroke="#222" stroke-width="1.4"/>
<line x1="673.76" y1="237.90" x2="673.76" y2="242.90" stroke="#222" stroke-width="1.4"/>
<text x="673.76" y="254.80" text-anchor="middle" font-family='"Liberation Sans", sans-serif' font-weight="bold" font-size="10.4" fill="#1a1a1a">700</text>
<line x1="706.40" y1="237.90" x2="706.40" y2="240.40" stroke="#222" stroke-width="1.4"/>
<line x1="584.30" y1="9.20" x2="607.50" y2="9.20" stroke="#000000" stroke-width="2.2"/>
<text x="610.00" y="12.80" font-family='"Liberation Sans", sans-serif' font-size="9.95" fill="#111">Before aging process</text>
<line x1="584.30" y1="21.50" x2="607.50" y2="21.50" stroke="#ee3838" stroke-width="2.2"/>
<text x="610.00" y="25.10" font-family='"Liberation Sans", sans-serif' font-size="9.95" fill="#111">2 h aging process</text>
<line x1="584.30" y1="33.80" x2="607.50" y2="33.80" stroke="#1f6fe0" stroke-width="2.2"/>
<text x="610.00" y="37.40" font-family='"Liberation Sans", sans-serif' font-size="9.95" fill="#111">5 h aging process</text>
<line x1="584.30" y1="46.10" x2="607.50" y2="46.10" stroke="#2fa05a" stroke-width="2.2"/>
<text x="610.00" y="49.70" font-family='"Liberation Sans", sans-serif' font-size="9.95" fill="#111">10 h aging process</text>
<line x1="584.30" y1="58.40" x2="607.50" y2="58.40" stroke="#b07ae8" stroke-width="2.2"/>
<text x="610.00" y="62.00" font-family='"Liberation Sans", sans-serif' font-size="9.95" fill="#111">30 h aging process</text>
<line x1="584.30" y1="70.70" x2="607.50" y2="70.70" stroke="#d49a10" stroke-width="2.2"/>
<text x="610.00" y="74.30" font-family='"Liberation Sans", sans-serif' font-size="9.95" fill="#111">50 h aging process</text>
<text x="419.50" y="20.50" font-family='"Liberation Serif", serif' font-weight="bold" font-size="16.50" fill="#000">(b)</text>
<text transform="translate(377.60,111.00) rotate(-90)" text-anchor="middle" font-family='"Liberation Sans", sans-serif' font-weight="bold" font-size="13.3" fill="#111">Absorbance</text>
<text x="559.50" y="276.20" text-anchor="middle" font-family='"Liberation Sans", sans-serif' font-weight="bold" font-size="13.4" fill="#111">Wavelength (nm)</text>
</svg>
</body></html>
